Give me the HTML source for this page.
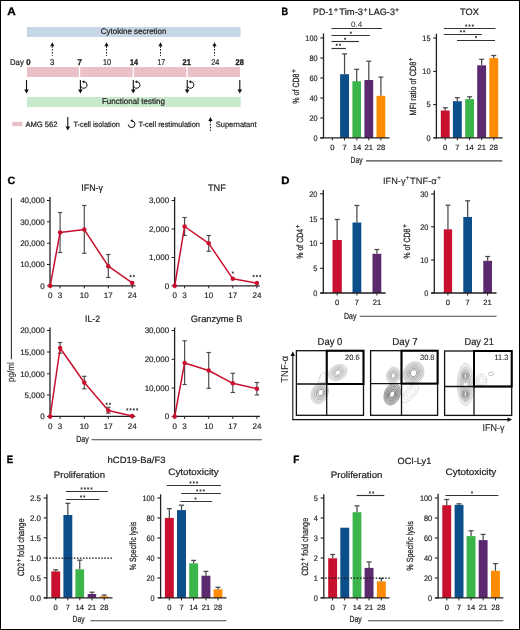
<!DOCTYPE html>
<html><head><meta charset="utf-8"><title>Figure</title>
<style>html,body{margin:0;padding:0;background:#fff;}svg{display:block;will-change:transform;font-family:"Liberation Sans",sans-serif;}</style>
</head><body>
<svg width="520" height="630" viewBox="0 0 520 630" font-family="Liberation Sans, sans-serif" text-rendering="geometricPrecision">
<rect x="0" y="0" width="520" height="630" fill="#fff"/>
<text x="7.3" y="15" font-size="11" font-weight="bold" fill="#000" stroke="#000" stroke-width="0.35" textLength="8.5" lengthAdjust="spacingAndGlyphs">A</text>
<rect x="27" y="27" width="213.5" height="10" fill="#c6d6e4"/>
<text x="100.8" y="34.3" font-size="8.2" font-weight="normal" fill="#231f20" stroke="#231f20" stroke-width="0.22" textLength="65.7" lengthAdjust="spacingAndGlyphs">Cytokine secretion</text>
<path d="M52.3 42.3 L50.2 46.2 L54.4 46.2 Z" fill="#111"/>
<line x1="52.3" y1="46.2" x2="52.3" y2="55.9" stroke="#111" stroke-width="1" stroke-linecap="butt" stroke-dasharray="1.6,1.3"/>
<path d="M106.5 42.3 L104.4 46.2 L108.6 46.2 Z" fill="#111"/>
<line x1="106.5" y1="46.2" x2="106.5" y2="55.9" stroke="#111" stroke-width="1" stroke-linecap="butt" stroke-dasharray="1.6,1.3"/>
<path d="M160.5 42.3 L158.4 46.2 L162.6 46.2 Z" fill="#111"/>
<line x1="160.5" y1="46.2" x2="160.5" y2="55.9" stroke="#111" stroke-width="1" stroke-linecap="butt" stroke-dasharray="1.6,1.3"/>
<path d="M214.5 42.3 L212.4 46.2 L216.6 46.2 Z" fill="#111"/>
<line x1="214.5" y1="46.2" x2="214.5" y2="55.9" stroke="#111" stroke-width="1" stroke-linecap="butt" stroke-dasharray="1.6,1.3"/>
<text x="10" y="64.8" font-size="8.4" font-weight="normal" fill="#231f20" stroke="#231f20" stroke-width="0.22" textLength="13.75" lengthAdjust="spacingAndGlyphs">Day</text>
<text x="26.3" y="64.8" font-size="8.4" font-weight="bold" fill="#231f20" stroke="#231f20" stroke-width="0.35" textLength="4.3" lengthAdjust="spacingAndGlyphs">0</text>
<text x="49.9" y="64.8" font-size="8.4" font-weight="normal" fill="#231f20" stroke="#231f20" stroke-width="0.22" textLength="4.3" lengthAdjust="spacingAndGlyphs">3</text>
<text x="77.6" y="64.8" font-size="8.4" font-weight="bold" fill="#231f20" stroke="#231f20" stroke-width="0.35" textLength="4.4" lengthAdjust="spacingAndGlyphs">7</text>
<text x="102.9" y="64.8" font-size="8.4" font-weight="normal" fill="#231f20" stroke="#231f20" stroke-width="0.22" textLength="8.1" lengthAdjust="spacingAndGlyphs">10</text>
<text x="130" y="64.8" font-size="8.4" font-weight="bold" fill="#231f20" stroke="#231f20" stroke-width="0.35" textLength="8" lengthAdjust="spacingAndGlyphs">14</text>
<text x="157.5" y="64.8" font-size="8.4" font-weight="normal" fill="#231f20" stroke="#231f20" stroke-width="0.22" textLength="7.5" lengthAdjust="spacingAndGlyphs">17</text>
<text x="182.5" y="64.8" font-size="8.4" font-weight="bold" fill="#231f20" stroke="#231f20" stroke-width="0.35" textLength="8.3" lengthAdjust="spacingAndGlyphs">21</text>
<text x="211.3" y="64.8" font-size="8.4" font-weight="normal" fill="#231f20" stroke="#231f20" stroke-width="0.22" textLength="8" lengthAdjust="spacingAndGlyphs">24</text>
<text x="235.5" y="64.8" font-size="8.4" font-weight="bold" fill="#231f20" stroke="#231f20" stroke-width="0.35" textLength="8.3" lengthAdjust="spacingAndGlyphs">28</text>
<rect x="27" y="67" width="213" height="10" fill="#ecc0c8"/>
<rect x="78.9" y="66.5" width="1.3" height="11" fill="#fff"/>
<rect x="132.6" y="66.5" width="1.3" height="11" fill="#fff"/>
<rect x="186.4" y="66.5" width="1.3" height="11" fill="#fff"/>
<rect x="27" y="97" width="213.8" height="10" fill="#c9e9cc"/>
<text x="101.9" y="104.3" font-size="8.2" font-weight="normal" fill="#231f20" stroke="#231f20" stroke-width="0.22" textLength="63.1" lengthAdjust="spacingAndGlyphs">Functional testing</text>
<line x1="26.5" y1="80" x2="26.5" y2="90" stroke="#111" stroke-width="1.1" stroke-linecap="butt"/>
<path d="M24.2 89.5 L28.8 89.5 L26.5 93.5 Z" fill="#111"/>
<line x1="80.4" y1="80" x2="80.4" y2="90" stroke="#111" stroke-width="1.1" stroke-linecap="butt"/>
<path d="M78.1 89.5 L82.7 89.5 L80.4 93.5 Z" fill="#111"/>
<path d="M80.94 86.65 A3.3 3.3 0 1 0 83.46 81.72" fill="none" stroke="#111" stroke-width="1.0"/>
<path d="M81.86 81.72 L84.26 80.22 L84.26 83.22 Z" fill="#111"/>
<line x1="80.94" y1="86.65" x2="80.7" y2="87.3" stroke="#111" stroke-width="1" stroke-linecap="butt"/>
<line x1="133.3" y1="80" x2="133.3" y2="90" stroke="#111" stroke-width="1.1" stroke-linecap="butt"/>
<path d="M131 89.5 L135.6 89.5 L133.3 93.5 Z" fill="#111"/>
<path d="M133.84 86.65 A3.3 3.3 0 1 0 136.36 81.72" fill="none" stroke="#111" stroke-width="1.0"/>
<path d="M134.76 81.72 L137.16 80.22 L137.16 83.22 Z" fill="#111"/>
<line x1="133.84" y1="86.65" x2="133.6" y2="87.3" stroke="#111" stroke-width="1" stroke-linecap="butt"/>
<line x1="187.2" y1="80" x2="187.2" y2="90" stroke="#111" stroke-width="1.1" stroke-linecap="butt"/>
<path d="M184.9 89.5 L189.5 89.5 L187.2 93.5 Z" fill="#111"/>
<path d="M187.74 86.65 A3.3 3.3 0 1 0 190.26 81.72" fill="none" stroke="#111" stroke-width="1.0"/>
<path d="M188.66 81.72 L191.06 80.22 L191.06 83.22 Z" fill="#111"/>
<line x1="187.74" y1="86.65" x2="187.5" y2="87.3" stroke="#111" stroke-width="1" stroke-linecap="butt"/>
<line x1="239.8" y1="80" x2="239.8" y2="90" stroke="#111" stroke-width="1.1" stroke-linecap="butt"/>
<path d="M237.5 89.5 L242.1 89.5 L239.8 93.5 Z" fill="#111"/>
<rect x="12.3" y="121.8" width="10" height="4.4" fill="#ecc0c8"/>
<text x="25.4" y="126.6" font-size="7.8" font-weight="normal" fill="#231f20" stroke="#231f20" stroke-width="0.22" textLength="32.1" lengthAdjust="spacingAndGlyphs">AMG 562</text>
<line x1="67.8" y1="117" x2="67.8" y2="127.1" stroke="#111" stroke-width="1.1" stroke-linecap="butt"/>
<path d="M65.5 126.6 L70.1 126.6 L67.8 130.6 Z" fill="#111"/>
<text x="73.5" y="126.6" font-size="7.8" font-weight="normal" fill="#231f20" stroke="#231f20" stroke-width="0.22" textLength="46.3" lengthAdjust="spacingAndGlyphs">T-cell isolation</text>
<path d="M128.21 124.5 A3.4 3.4 0 1 0 131.78 120.8" fill="none" stroke="#111" stroke-width="1.0"/>
<path d="M130.18 120.8 L132.58 119.3 L132.58 122.3 Z" fill="#111"/>
<text x="138.5" y="126.6" font-size="7.8" font-weight="normal" fill="#231f20" stroke="#231f20" stroke-width="0.22" textLength="61.4" lengthAdjust="spacingAndGlyphs">T-cell restimulation</text>
<path d="M210.4 117 L208.3 121 L212.5 121 Z" fill="#111"/>
<line x1="210.4" y1="121" x2="210.4" y2="131" stroke="#111" stroke-width="1" stroke-linecap="butt" stroke-dasharray="1.6,1.3"/>
<text x="215.8" y="126.6" font-size="7.8" font-weight="normal" fill="#231f20" stroke="#231f20" stroke-width="0.22" textLength="40.7" lengthAdjust="spacingAndGlyphs">Supernatant</text>
<text x="281.5" y="15.2" font-size="10.5" font-weight="bold" fill="#000" stroke="#000" stroke-width="0.35" textLength="6.6" lengthAdjust="spacingAndGlyphs">B</text>
<text x="313.1" y="15.2" font-size="9.3" font-weight="normal" fill="#231f20" stroke="#231f20" stroke-width="0.22" textLength="20" lengthAdjust="spacingAndGlyphs">PD-1</text>
<text x="333.9" y="11.7" font-size="6.6" font-weight="normal" fill="#231f20" stroke="#231f20" stroke-width="0.22" textLength="4.1" lengthAdjust="spacingAndGlyphs">+</text>
<text x="339.3" y="15.2" font-size="9.3" font-weight="normal" fill="#231f20" stroke="#231f20" stroke-width="0.22" textLength="23.8" lengthAdjust="spacingAndGlyphs">Tim-3</text>
<text x="363.8" y="11.7" font-size="6.6" font-weight="normal" fill="#231f20" stroke="#231f20" stroke-width="0.22" textLength="3.6" lengthAdjust="spacingAndGlyphs">+</text>
<text x="368.6" y="15.2" font-size="9.3" font-weight="normal" fill="#231f20" stroke="#231f20" stroke-width="0.22" textLength="26.4" lengthAdjust="spacingAndGlyphs">LAG-3</text>
<text x="395.2" y="11.7" font-size="6.6" font-weight="normal" fill="#231f20" stroke="#231f20" stroke-width="0.22" textLength="3.7" lengthAdjust="spacingAndGlyphs">+</text>
<text x="460" y="15.2" font-size="9.3" font-weight="normal" fill="#231f20" stroke="#231f20" stroke-width="0.22" textLength="18.8" lengthAdjust="spacingAndGlyphs">TOX</text>
<line x1="331.5" y1="28.5" x2="382" y2="28.5" stroke="#333333" stroke-width="1.15" stroke-linecap="butt"/>
<text x="351" y="26.8" font-size="7.8" font-weight="normal" fill="#231f20" textLength="11.3" lengthAdjust="spacingAndGlyphs">0.4</text>
<line x1="331.5" y1="35.5" x2="369.8" y2="35.5" stroke="#333333" stroke-width="1.15" stroke-linecap="butt"/>
<line x1="350.8" y1="31.55" x2="350.8" y2="33.85" stroke="#333333" stroke-width="0.75" stroke-linecap="butt"/>
<line x1="349.8" y1="32.12" x2="351.8" y2="33.28" stroke="#333333" stroke-width="0.75" stroke-linecap="butt"/>
<line x1="351.8" y1="32.12" x2="349.8" y2="33.28" stroke="#333333" stroke-width="0.75" stroke-linecap="butt"/>
<line x1="331.5" y1="41.5" x2="358.9" y2="41.5" stroke="#333333" stroke-width="1.15" stroke-linecap="butt"/>
<line x1="345.1" y1="37.65" x2="345.1" y2="39.95" stroke="#333333" stroke-width="0.75" stroke-linecap="butt"/>
<line x1="344.1" y1="38.22" x2="346.1" y2="39.38" stroke="#333333" stroke-width="0.75" stroke-linecap="butt"/>
<line x1="346.1" y1="38.22" x2="344.1" y2="39.38" stroke="#333333" stroke-width="0.75" stroke-linecap="butt"/>
<line x1="331.5" y1="48.5" x2="345.9" y2="48.5" stroke="#333333" stroke-width="1.15" stroke-linecap="butt"/>
<line x1="336.75" y1="43.65" x2="336.75" y2="45.95" stroke="#333333" stroke-width="0.75" stroke-linecap="butt"/>
<line x1="335.75" y1="44.22" x2="337.75" y2="45.38" stroke="#333333" stroke-width="0.75" stroke-linecap="butt"/>
<line x1="337.75" y1="44.22" x2="335.75" y2="45.38" stroke="#333333" stroke-width="0.75" stroke-linecap="butt"/>
<line x1="340.05" y1="43.65" x2="340.05" y2="45.95" stroke="#333333" stroke-width="0.75" stroke-linecap="butt"/>
<line x1="339.05" y1="44.22" x2="341.05" y2="45.38" stroke="#333333" stroke-width="0.75" stroke-linecap="butt"/>
<line x1="341.05" y1="44.22" x2="339.05" y2="45.38" stroke="#333333" stroke-width="0.75" stroke-linecap="butt"/>
<rect x="340.1" y="74.2" width="8.9" height="63.7" fill="#0d4f8b"/>
<line x1="344.55" y1="53.9" x2="344.55" y2="74.2" stroke="#4a4a4a" stroke-width="1.25" stroke-linecap="butt"/>
<line x1="342.05" y1="53.9" x2="347.05" y2="53.9" stroke="#4a4a4a" stroke-width="1.25" stroke-linecap="butt"/>
<rect x="352.4" y="81.2" width="8.6" height="56.7" fill="#3bb54a"/>
<line x1="356.7" y1="69.3" x2="356.7" y2="81.2" stroke="#4a4a4a" stroke-width="1.25" stroke-linecap="butt"/>
<line x1="354.2" y1="69.3" x2="359.2" y2="69.3" stroke="#4a4a4a" stroke-width="1.25" stroke-linecap="butt"/>
<rect x="364.4" y="80" width="8.8" height="57.9" fill="#5b2a6e"/>
<line x1="368.8" y1="61.2" x2="368.8" y2="80" stroke="#4a4a4a" stroke-width="1.25" stroke-linecap="butt"/>
<line x1="366.3" y1="61.2" x2="371.3" y2="61.2" stroke="#4a4a4a" stroke-width="1.25" stroke-linecap="butt"/>
<rect x="376.5" y="95.8" width="8.8" height="42.1" fill="#ff8c00"/>
<line x1="380.9" y1="77.1" x2="380.9" y2="95.8" stroke="#4a4a4a" stroke-width="1.25" stroke-linecap="butt"/>
<line x1="378.4" y1="77.1" x2="383.4" y2="77.1" stroke="#4a4a4a" stroke-width="1.25" stroke-linecap="butt"/>
<line x1="323.5" y1="33.4" x2="323.5" y2="138.5" stroke="#231f20" stroke-width="1.3" stroke-linecap="butt"/>
<line x1="320.2" y1="137.9" x2="389.5" y2="137.9" stroke="#231f20" stroke-width="1.3" stroke-linecap="butt"/>
<line x1="320.3" y1="38" x2="323.5" y2="38" stroke="#231f20" stroke-width="1.1" stroke-linecap="butt"/>
<text x="305.32" y="40.85" font-size="8" fill="#231f20" stroke="#231f20" stroke-width="0.18" textLength="12.28" lengthAdjust="spacingAndGlyphs">100</text>
<line x1="320.3" y1="58" x2="323.5" y2="58" stroke="#231f20" stroke-width="1.1" stroke-linecap="butt"/>
<text x="309.42" y="60.85" font-size="8" fill="#231f20" stroke="#231f20" stroke-width="0.18" textLength="8.18" lengthAdjust="spacingAndGlyphs">80</text>
<line x1="320.3" y1="78" x2="323.5" y2="78" stroke="#231f20" stroke-width="1.1" stroke-linecap="butt"/>
<text x="309.42" y="80.85" font-size="8" fill="#231f20" stroke="#231f20" stroke-width="0.18" textLength="8.18" lengthAdjust="spacingAndGlyphs">60</text>
<line x1="320.3" y1="98" x2="323.5" y2="98" stroke="#231f20" stroke-width="1.1" stroke-linecap="butt"/>
<text x="309.42" y="100.85" font-size="8" fill="#231f20" stroke="#231f20" stroke-width="0.18" textLength="8.18" lengthAdjust="spacingAndGlyphs">40</text>
<line x1="320.3" y1="118" x2="323.5" y2="118" stroke="#231f20" stroke-width="1.1" stroke-linecap="butt"/>
<text x="309.42" y="120.85" font-size="8" fill="#231f20" stroke="#231f20" stroke-width="0.18" textLength="8.18" lengthAdjust="spacingAndGlyphs">20</text>
<line x1="320.3" y1="137.9" x2="323.5" y2="137.9" stroke="#231f20" stroke-width="1.1" stroke-linecap="butt"/>
<text x="313.51" y="140.75" font-size="8" fill="#231f20" stroke="#231f20" stroke-width="0.18" textLength="4.09" lengthAdjust="spacingAndGlyphs">0</text>
<line x1="332.4" y1="137.9" x2="332.4" y2="140.4" stroke="#231f20" stroke-width="1" stroke-linecap="butt"/>
<text x="332.4" y="150.1" font-size="7.6" font-weight="normal" fill="#231f20" stroke="#231f20" stroke-width="0.18" text-anchor="middle">0</text>
<line x1="344.5" y1="137.9" x2="344.5" y2="140.4" stroke="#231f20" stroke-width="1" stroke-linecap="butt"/>
<text x="344.5" y="150.1" font-size="7.6" font-weight="normal" fill="#231f20" stroke="#231f20" stroke-width="0.18" text-anchor="middle">7</text>
<line x1="356.9" y1="137.9" x2="356.9" y2="140.4" stroke="#231f20" stroke-width="1" stroke-linecap="butt"/>
<text x="356.9" y="150.1" font-size="7.6" font-weight="normal" fill="#231f20" stroke="#231f20" stroke-width="0.18" text-anchor="middle">14</text>
<line x1="368.8" y1="137.9" x2="368.8" y2="140.4" stroke="#231f20" stroke-width="1" stroke-linecap="butt"/>
<text x="368.8" y="150.1" font-size="7.6" font-weight="normal" fill="#231f20" stroke="#231f20" stroke-width="0.18" text-anchor="middle">21</text>
<line x1="380.9" y1="137.9" x2="380.9" y2="140.4" stroke="#231f20" stroke-width="1" stroke-linecap="butt"/>
<text x="380.9" y="150.1" font-size="7.6" font-weight="normal" fill="#231f20" stroke="#231f20" stroke-width="0.18" text-anchor="middle">28</text>
<text transform="translate(299.4 103.7) rotate(-90)" x="0" y="0" font-size="9" fill="#231f20" stroke="#231f20" stroke-width="0.25" textLength="30.2" lengthAdjust="spacingAndGlyphs">% of CD8</text>
<text transform="translate(295.9 72.84) rotate(-90)" x="0" y="0" font-size="7" fill="#231f20" stroke="#231f20" stroke-width="0.2" textLength="3.68" lengthAdjust="spacingAndGlyphs">+</text>
<line x1="443.8" y1="28.5" x2="495.5" y2="28.5" stroke="#333333" stroke-width="1.15" stroke-linecap="butt"/>
<line x1="466.2" y1="24.45" x2="466.2" y2="26.75" stroke="#333333" stroke-width="0.75" stroke-linecap="butt"/>
<line x1="465.2" y1="25.03" x2="467.2" y2="26.18" stroke="#333333" stroke-width="0.75" stroke-linecap="butt"/>
<line x1="467.2" y1="25.03" x2="465.2" y2="26.18" stroke="#333333" stroke-width="0.75" stroke-linecap="butt"/>
<line x1="469.5" y1="24.45" x2="469.5" y2="26.75" stroke="#333333" stroke-width="0.75" stroke-linecap="butt"/>
<line x1="468.5" y1="25.03" x2="470.5" y2="26.18" stroke="#333333" stroke-width="0.75" stroke-linecap="butt"/>
<line x1="470.5" y1="25.03" x2="468.5" y2="26.18" stroke="#333333" stroke-width="0.75" stroke-linecap="butt"/>
<line x1="472.8" y1="24.45" x2="472.8" y2="26.75" stroke="#333333" stroke-width="0.75" stroke-linecap="butt"/>
<line x1="471.8" y1="25.03" x2="473.8" y2="26.18" stroke="#333333" stroke-width="0.75" stroke-linecap="butt"/>
<line x1="473.8" y1="25.03" x2="471.8" y2="26.18" stroke="#333333" stroke-width="0.75" stroke-linecap="butt"/>
<line x1="443.8" y1="34.5" x2="481.8" y2="34.5" stroke="#333333" stroke-width="1.15" stroke-linecap="butt"/>
<line x1="460.85" y1="30.15" x2="460.85" y2="32.45" stroke="#333333" stroke-width="0.75" stroke-linecap="butt"/>
<line x1="459.85" y1="30.73" x2="461.85" y2="31.88" stroke="#333333" stroke-width="0.75" stroke-linecap="butt"/>
<line x1="461.85" y1="30.73" x2="459.85" y2="31.88" stroke="#333333" stroke-width="0.75" stroke-linecap="butt"/>
<line x1="464.15" y1="30.15" x2="464.15" y2="32.45" stroke="#333333" stroke-width="0.75" stroke-linecap="butt"/>
<line x1="463.15" y1="30.73" x2="465.15" y2="31.88" stroke="#333333" stroke-width="0.75" stroke-linecap="butt"/>
<line x1="465.15" y1="30.73" x2="463.15" y2="31.88" stroke="#333333" stroke-width="0.75" stroke-linecap="butt"/>
<line x1="457" y1="40.5" x2="495" y2="40.5" stroke="#333333" stroke-width="1.15" stroke-linecap="butt"/>
<line x1="476" y1="35.85" x2="476" y2="38.15" stroke="#333333" stroke-width="0.75" stroke-linecap="butt"/>
<line x1="475" y1="36.42" x2="477" y2="37.58" stroke="#333333" stroke-width="0.75" stroke-linecap="butt"/>
<line x1="477" y1="36.42" x2="475" y2="37.58" stroke="#333333" stroke-width="0.75" stroke-linecap="butt"/>
<rect x="440.8" y="110.5" width="8.9" height="27.3" fill="#c8102e"/>
<line x1="445.25" y1="107.8" x2="445.25" y2="110.5" stroke="#4a4a4a" stroke-width="1.25" stroke-linecap="butt"/>
<line x1="442.75" y1="107.8" x2="447.75" y2="107.8" stroke="#4a4a4a" stroke-width="1.25" stroke-linecap="butt"/>
<rect x="452.9" y="101.2" width="8.9" height="36.6" fill="#0d4f8b"/>
<line x1="457.35" y1="97.6" x2="457.35" y2="101.2" stroke="#4a4a4a" stroke-width="1.25" stroke-linecap="butt"/>
<line x1="454.85" y1="97.6" x2="459.85" y2="97.6" stroke="#4a4a4a" stroke-width="1.25" stroke-linecap="butt"/>
<rect x="465.2" y="99.1" width="8.8" height="38.7" fill="#3bb54a"/>
<line x1="469.6" y1="96.8" x2="469.6" y2="99.1" stroke="#4a4a4a" stroke-width="1.25" stroke-linecap="butt"/>
<line x1="467.1" y1="96.8" x2="472.1" y2="96.8" stroke="#4a4a4a" stroke-width="1.25" stroke-linecap="butt"/>
<rect x="477.2" y="65.3" width="8.9" height="72.5" fill="#5b2a6e"/>
<line x1="481.65" y1="59.3" x2="481.65" y2="65.3" stroke="#4a4a4a" stroke-width="1.25" stroke-linecap="butt"/>
<line x1="479.15" y1="59.3" x2="484.15" y2="59.3" stroke="#4a4a4a" stroke-width="1.25" stroke-linecap="butt"/>
<rect x="489.3" y="58.1" width="8.9" height="79.7" fill="#ff8c00"/>
<line x1="493.75" y1="55.5" x2="493.75" y2="58.1" stroke="#4a4a4a" stroke-width="1.25" stroke-linecap="butt"/>
<line x1="491.25" y1="55.5" x2="496.25" y2="55.5" stroke="#4a4a4a" stroke-width="1.25" stroke-linecap="butt"/>
<line x1="436.4" y1="33.7" x2="436.4" y2="138.4" stroke="#231f20" stroke-width="1.3" stroke-linecap="butt"/>
<line x1="433.8" y1="137.8" x2="502.6" y2="137.8" stroke="#231f20" stroke-width="1.3" stroke-linecap="butt"/>
<line x1="433.2" y1="38" x2="436.4" y2="38" stroke="#231f20" stroke-width="1.1" stroke-linecap="butt"/>
<text x="422.32" y="40.85" font-size="8" fill="#231f20" stroke="#231f20" stroke-width="0.18" textLength="8.18" lengthAdjust="spacingAndGlyphs">15</text>
<line x1="433.2" y1="71.4" x2="436.4" y2="71.4" stroke="#231f20" stroke-width="1.1" stroke-linecap="butt"/>
<text x="422.32" y="74.25" font-size="8" fill="#231f20" stroke="#231f20" stroke-width="0.18" textLength="8.18" lengthAdjust="spacingAndGlyphs">10</text>
<line x1="433.2" y1="104.6" x2="436.4" y2="104.6" stroke="#231f20" stroke-width="1.1" stroke-linecap="butt"/>
<text x="426.41" y="107.45" font-size="8" fill="#231f20" stroke="#231f20" stroke-width="0.18" textLength="4.09" lengthAdjust="spacingAndGlyphs">5</text>
<line x1="433.2" y1="137.8" x2="436.4" y2="137.8" stroke="#231f20" stroke-width="1.1" stroke-linecap="butt"/>
<text x="426.41" y="140.65" font-size="8" fill="#231f20" stroke="#231f20" stroke-width="0.18" textLength="4.09" lengthAdjust="spacingAndGlyphs">0</text>
<line x1="445.2" y1="137.8" x2="445.2" y2="140.3" stroke="#231f20" stroke-width="1" stroke-linecap="butt"/>
<text x="445.2" y="150.1" font-size="7.6" font-weight="normal" fill="#231f20" stroke="#231f20" stroke-width="0.18" text-anchor="middle">0</text>
<line x1="457.3" y1="137.8" x2="457.3" y2="140.3" stroke="#231f20" stroke-width="1" stroke-linecap="butt"/>
<text x="457.3" y="150.1" font-size="7.6" font-weight="normal" fill="#231f20" stroke="#231f20" stroke-width="0.18" text-anchor="middle">7</text>
<line x1="469.6" y1="137.8" x2="469.6" y2="140.3" stroke="#231f20" stroke-width="1" stroke-linecap="butt"/>
<text x="469.6" y="150.1" font-size="7.6" font-weight="normal" fill="#231f20" stroke="#231f20" stroke-width="0.18" text-anchor="middle">14</text>
<line x1="481.7" y1="137.8" x2="481.7" y2="140.3" stroke="#231f20" stroke-width="1" stroke-linecap="butt"/>
<text x="481.7" y="150.1" font-size="7.6" font-weight="normal" fill="#231f20" stroke="#231f20" stroke-width="0.18" text-anchor="middle">21</text>
<line x1="493.8" y1="137.8" x2="493.8" y2="140.3" stroke="#231f20" stroke-width="1" stroke-linecap="butt"/>
<text x="493.8" y="150.1" font-size="7.6" font-weight="normal" fill="#231f20" stroke="#231f20" stroke-width="0.18" text-anchor="middle">28</text>
<text transform="translate(416 115.4) rotate(-90)" x="0" y="0" font-size="9" fill="#231f20" stroke="#231f20" stroke-width="0.25" textLength="53.7" lengthAdjust="spacingAndGlyphs">MFI ratio of CD8</text>
<text transform="translate(412.9 61.34) rotate(-90)" x="0" y="0" font-size="7" fill="#231f20" stroke="#231f20" stroke-width="0.2" textLength="3.68" lengthAdjust="spacingAndGlyphs">+</text>
<text x="350.6" y="162.7" font-size="8.8" font-weight="normal" fill="#231f20" stroke="#231f20" stroke-width="0.22" textLength="11.9" lengthAdjust="spacingAndGlyphs">Day</text>
<line x1="366" y1="160.9" x2="502.3" y2="160.9" stroke="#444" stroke-width="1.1" stroke-linecap="butt"/>
<text x="7.5" y="183.8" font-size="10.5" font-weight="bold" fill="#000" stroke="#000" stroke-width="0.35" textLength="7.7" lengthAdjust="spacingAndGlyphs">C</text>
<line x1="11.4" y1="198" x2="11.4" y2="359.2" stroke="#333" stroke-width="1.1" stroke-linecap="butt"/>
<text transform="translate(13.7 381.9) rotate(-90)" x="0" y="0" font-size="9.5" fill="#231f20" stroke="#231f20" stroke-width="0.1" textLength="19.7" lengthAdjust="spacingAndGlyphs">pg/ml</text>
<text x="81.3" y="191" font-size="9.3" font-weight="normal" fill="#231f20" stroke="#231f20" stroke-width="0.22" textLength="21.7" lengthAdjust="spacingAndGlyphs">IFN-γ</text>
<line x1="60.1" y1="212.5" x2="60.1" y2="252.5" stroke="#4a4a4a" stroke-width="1.15" stroke-linecap="butt"/>
<line x1="57.9" y1="212.5" x2="62.3" y2="212.5" stroke="#4a4a4a" stroke-width="1.15" stroke-linecap="butt"/>
<line x1="57.9" y1="252.5" x2="62.3" y2="252.5" stroke="#4a4a4a" stroke-width="1.15" stroke-linecap="butt"/>
<line x1="84.3" y1="205.5" x2="84.3" y2="253.3" stroke="#4a4a4a" stroke-width="1.15" stroke-linecap="butt"/>
<line x1="82.1" y1="205.5" x2="86.5" y2="205.5" stroke="#4a4a4a" stroke-width="1.15" stroke-linecap="butt"/>
<line x1="82.1" y1="253.3" x2="86.5" y2="253.3" stroke="#4a4a4a" stroke-width="1.15" stroke-linecap="butt"/>
<line x1="108.3" y1="254.5" x2="108.3" y2="277.5" stroke="#4a4a4a" stroke-width="1.15" stroke-linecap="butt"/>
<line x1="106.1" y1="254.5" x2="110.5" y2="254.5" stroke="#4a4a4a" stroke-width="1.15" stroke-linecap="butt"/>
<line x1="106.1" y1="277.5" x2="110.5" y2="277.5" stroke="#4a4a4a" stroke-width="1.15" stroke-linecap="butt"/>
<line x1="50" y1="197" x2="50" y2="286.4" stroke="#231f20" stroke-width="1.3" stroke-linecap="butt"/>
<line x1="49.4" y1="285.8" x2="135.5" y2="285.8" stroke="#231f20" stroke-width="1.3" stroke-linecap="butt"/>
<line x1="47" y1="200.5" x2="50" y2="200.5" stroke="#231f20" stroke-width="1" stroke-linecap="butt"/>
<text x="44.6" y="203.2" font-size="8" fill="#231f20" stroke="#231f20" stroke-width="0.18" text-anchor="end">40,000</text>
<line x1="47" y1="221.8" x2="50" y2="221.8" stroke="#231f20" stroke-width="1" stroke-linecap="butt"/>
<text x="44.6" y="224.5" font-size="8" fill="#231f20" stroke="#231f20" stroke-width="0.18" text-anchor="end">30,000</text>
<line x1="47" y1="243.2" x2="50" y2="243.2" stroke="#231f20" stroke-width="1" stroke-linecap="butt"/>
<text x="44.6" y="245.9" font-size="8" fill="#231f20" stroke="#231f20" stroke-width="0.18" text-anchor="end">20,000</text>
<line x1="47" y1="264.5" x2="50" y2="264.5" stroke="#231f20" stroke-width="1" stroke-linecap="butt"/>
<text x="44.6" y="267.2" font-size="8" fill="#231f20" stroke="#231f20" stroke-width="0.18" text-anchor="end">10,000</text>
<line x1="47" y1="285.8" x2="50" y2="285.8" stroke="#231f20" stroke-width="1" stroke-linecap="butt"/>
<text x="44.6" y="288.5" font-size="8" fill="#231f20" stroke="#231f20" stroke-width="0.18" text-anchor="end">0</text>
<line x1="50.2" y1="285.8" x2="50.2" y2="288.3" stroke="#231f20" stroke-width="1" stroke-linecap="butt"/>
<text x="50.2" y="298" font-size="8" font-weight="normal" fill="#231f20" stroke="#231f20" stroke-width="0.18" text-anchor="middle">0</text>
<line x1="60.1" y1="285.8" x2="60.1" y2="288.3" stroke="#231f20" stroke-width="1" stroke-linecap="butt"/>
<text x="60.1" y="298" font-size="8" font-weight="normal" fill="#231f20" stroke="#231f20" stroke-width="0.18" text-anchor="middle">3</text>
<line x1="84.3" y1="285.8" x2="84.3" y2="288.3" stroke="#231f20" stroke-width="1" stroke-linecap="butt"/>
<text x="84.3" y="298" font-size="8" font-weight="normal" fill="#231f20" stroke="#231f20" stroke-width="0.18" text-anchor="middle">10</text>
<line x1="108.3" y1="285.8" x2="108.3" y2="288.3" stroke="#231f20" stroke-width="1" stroke-linecap="butt"/>
<text x="108.3" y="298" font-size="8" font-weight="normal" fill="#231f20" stroke="#231f20" stroke-width="0.18" text-anchor="middle">17</text>
<line x1="132.2" y1="285.8" x2="132.2" y2="288.3" stroke="#231f20" stroke-width="1" stroke-linecap="butt"/>
<text x="132.2" y="298" font-size="8" font-weight="normal" fill="#231f20" stroke="#231f20" stroke-width="0.18" text-anchor="middle">24</text>
<polyline points="50.2,285.8 60.1,232.5 84.3,229.6 108.3,266.2 132.2,282.9" fill="none" stroke="#c8102e" stroke-width="1.5" stroke-linejoin="round"/>
<circle cx="50.2" cy="285.8" r="2.25" fill="#c8102e"/>
<circle cx="60.1" cy="232.5" r="2.25" fill="#c8102e"/>
<circle cx="84.3" cy="229.6" r="2.25" fill="#c8102e"/>
<circle cx="108.3" cy="266.2" r="2.25" fill="#c8102e"/>
<circle cx="132.2" cy="282.9" r="2.25" fill="#c8102e"/>
<line x1="130.55" y1="274.85" x2="130.55" y2="277.15" stroke="#333333" stroke-width="0.75" stroke-linecap="butt"/>
<line x1="129.55" y1="275.43" x2="131.55" y2="276.57" stroke="#333333" stroke-width="0.75" stroke-linecap="butt"/>
<line x1="131.55" y1="275.43" x2="129.55" y2="276.57" stroke="#333333" stroke-width="0.75" stroke-linecap="butt"/>
<line x1="133.85" y1="274.85" x2="133.85" y2="277.15" stroke="#333333" stroke-width="0.75" stroke-linecap="butt"/>
<line x1="132.85" y1="275.43" x2="134.85" y2="276.57" stroke="#333333" stroke-width="0.75" stroke-linecap="butt"/>
<line x1="134.85" y1="275.43" x2="132.85" y2="276.57" stroke="#333333" stroke-width="0.75" stroke-linecap="butt"/>
<text x="208" y="191" font-size="9.3" font-weight="normal" fill="#231f20" stroke="#231f20" stroke-width="0.22" textLength="17.8" lengthAdjust="spacingAndGlyphs">TNF</text>
<line x1="184.6" y1="217.5" x2="184.6" y2="235.5" stroke="#4a4a4a" stroke-width="1.15" stroke-linecap="butt"/>
<line x1="182.4" y1="217.5" x2="186.8" y2="217.5" stroke="#4a4a4a" stroke-width="1.15" stroke-linecap="butt"/>
<line x1="182.4" y1="235.5" x2="186.8" y2="235.5" stroke="#4a4a4a" stroke-width="1.15" stroke-linecap="butt"/>
<line x1="208.7" y1="235.5" x2="208.7" y2="251.3" stroke="#4a4a4a" stroke-width="1.15" stroke-linecap="butt"/>
<line x1="206.5" y1="235.5" x2="210.9" y2="235.5" stroke="#4a4a4a" stroke-width="1.15" stroke-linecap="butt"/>
<line x1="206.5" y1="251.3" x2="210.9" y2="251.3" stroke="#4a4a4a" stroke-width="1.15" stroke-linecap="butt"/>
<line x1="174.6" y1="197" x2="174.6" y2="286.4" stroke="#231f20" stroke-width="1.3" stroke-linecap="butt"/>
<line x1="174" y1="285.8" x2="259.8" y2="285.8" stroke="#231f20" stroke-width="1.3" stroke-linecap="butt"/>
<line x1="171.6" y1="200.5" x2="174.6" y2="200.5" stroke="#231f20" stroke-width="1" stroke-linecap="butt"/>
<text x="169.1" y="203.2" font-size="8" fill="#231f20" stroke="#231f20" stroke-width="0.18" text-anchor="end">3,000</text>
<line x1="171.6" y1="229" x2="174.6" y2="229" stroke="#231f20" stroke-width="1" stroke-linecap="butt"/>
<text x="169.1" y="231.7" font-size="8" fill="#231f20" stroke="#231f20" stroke-width="0.18" text-anchor="end">2,000</text>
<line x1="171.6" y1="257.5" x2="174.6" y2="257.5" stroke="#231f20" stroke-width="1" stroke-linecap="butt"/>
<text x="169.1" y="260.2" font-size="8" fill="#231f20" stroke="#231f20" stroke-width="0.18" text-anchor="end">1,000</text>
<line x1="171.6" y1="285.8" x2="174.6" y2="285.8" stroke="#231f20" stroke-width="1" stroke-linecap="butt"/>
<text x="169.1" y="288.5" font-size="8" fill="#231f20" stroke="#231f20" stroke-width="0.18" text-anchor="end">0</text>
<line x1="174.7" y1="285.8" x2="174.7" y2="288.3" stroke="#231f20" stroke-width="1" stroke-linecap="butt"/>
<text x="174.7" y="298" font-size="8" font-weight="normal" fill="#231f20" stroke="#231f20" stroke-width="0.18" text-anchor="middle">0</text>
<line x1="184.6" y1="285.8" x2="184.6" y2="288.3" stroke="#231f20" stroke-width="1" stroke-linecap="butt"/>
<text x="184.6" y="298" font-size="8" font-weight="normal" fill="#231f20" stroke="#231f20" stroke-width="0.18" text-anchor="middle">3</text>
<line x1="208.7" y1="285.8" x2="208.7" y2="288.3" stroke="#231f20" stroke-width="1" stroke-linecap="butt"/>
<text x="208.7" y="298" font-size="8" font-weight="normal" fill="#231f20" stroke="#231f20" stroke-width="0.18" text-anchor="middle">10</text>
<line x1="232.8" y1="285.8" x2="232.8" y2="288.3" stroke="#231f20" stroke-width="1" stroke-linecap="butt"/>
<text x="232.8" y="298" font-size="8" font-weight="normal" fill="#231f20" stroke="#231f20" stroke-width="0.18" text-anchor="middle">17</text>
<line x1="256.9" y1="285.8" x2="256.9" y2="288.3" stroke="#231f20" stroke-width="1" stroke-linecap="butt"/>
<text x="256.9" y="298" font-size="8" font-weight="normal" fill="#231f20" stroke="#231f20" stroke-width="0.18" text-anchor="middle">24</text>
<polyline points="174.7,285.8 184.6,226.5 208.7,243.3 232.8,278.8 256.9,283.1" fill="none" stroke="#c8102e" stroke-width="1.5" stroke-linejoin="round"/>
<circle cx="174.7" cy="285.8" r="2.25" fill="#c8102e"/>
<circle cx="184.6" cy="226.5" r="2.25" fill="#c8102e"/>
<circle cx="208.7" cy="243.3" r="2.25" fill="#c8102e"/>
<circle cx="232.8" cy="278.8" r="2.25" fill="#c8102e"/>
<circle cx="256.9" cy="283.1" r="2.25" fill="#c8102e"/>
<line x1="232.8" y1="271.45" x2="232.8" y2="273.75" stroke="#333333" stroke-width="0.75" stroke-linecap="butt"/>
<line x1="231.8" y1="272.03" x2="233.8" y2="273.18" stroke="#333333" stroke-width="0.75" stroke-linecap="butt"/>
<line x1="233.8" y1="272.03" x2="231.8" y2="273.18" stroke="#333333" stroke-width="0.75" stroke-linecap="butt"/>
<line x1="253.6" y1="274.85" x2="253.6" y2="277.15" stroke="#333333" stroke-width="0.75" stroke-linecap="butt"/>
<line x1="252.6" y1="275.43" x2="254.6" y2="276.57" stroke="#333333" stroke-width="0.75" stroke-linecap="butt"/>
<line x1="254.6" y1="275.43" x2="252.6" y2="276.57" stroke="#333333" stroke-width="0.75" stroke-linecap="butt"/>
<line x1="256.9" y1="274.85" x2="256.9" y2="277.15" stroke="#333333" stroke-width="0.75" stroke-linecap="butt"/>
<line x1="255.9" y1="275.43" x2="257.9" y2="276.57" stroke="#333333" stroke-width="0.75" stroke-linecap="butt"/>
<line x1="257.9" y1="275.43" x2="255.9" y2="276.57" stroke="#333333" stroke-width="0.75" stroke-linecap="butt"/>
<line x1="260.2" y1="274.85" x2="260.2" y2="277.15" stroke="#333333" stroke-width="0.75" stroke-linecap="butt"/>
<line x1="259.2" y1="275.43" x2="261.2" y2="276.57" stroke="#333333" stroke-width="0.75" stroke-linecap="butt"/>
<line x1="261.2" y1="275.43" x2="259.2" y2="276.57" stroke="#333333" stroke-width="0.75" stroke-linecap="butt"/>
<text x="85" y="322" font-size="9.3" font-weight="normal" fill="#231f20" stroke="#231f20" stroke-width="0.22" textLength="15" lengthAdjust="spacingAndGlyphs">IL-2</text>
<line x1="60.1" y1="342.5" x2="60.1" y2="353.3" stroke="#4a4a4a" stroke-width="1.15" stroke-linecap="butt"/>
<line x1="57.9" y1="342.5" x2="62.3" y2="342.5" stroke="#4a4a4a" stroke-width="1.15" stroke-linecap="butt"/>
<line x1="57.9" y1="353.3" x2="62.3" y2="353.3" stroke="#4a4a4a" stroke-width="1.15" stroke-linecap="butt"/>
<line x1="84.3" y1="376.3" x2="84.3" y2="388.8" stroke="#4a4a4a" stroke-width="1.15" stroke-linecap="butt"/>
<line x1="82.1" y1="376.3" x2="86.5" y2="376.3" stroke="#4a4a4a" stroke-width="1.15" stroke-linecap="butt"/>
<line x1="82.1" y1="388.8" x2="86.5" y2="388.8" stroke="#4a4a4a" stroke-width="1.15" stroke-linecap="butt"/>
<line x1="108.3" y1="407.2" x2="108.3" y2="413.2" stroke="#4a4a4a" stroke-width="1.15" stroke-linecap="butt"/>
<line x1="106.1" y1="407.2" x2="110.5" y2="407.2" stroke="#4a4a4a" stroke-width="1.15" stroke-linecap="butt"/>
<line x1="106.1" y1="413.2" x2="110.5" y2="413.2" stroke="#4a4a4a" stroke-width="1.15" stroke-linecap="butt"/>
<line x1="50" y1="327.5" x2="50" y2="417" stroke="#231f20" stroke-width="1.3" stroke-linecap="butt"/>
<line x1="49.4" y1="416.4" x2="135.3" y2="416.4" stroke="#231f20" stroke-width="1.3" stroke-linecap="butt"/>
<line x1="47" y1="330.5" x2="50" y2="330.5" stroke="#231f20" stroke-width="1" stroke-linecap="butt"/>
<text x="44.6" y="333.2" font-size="8" fill="#231f20" stroke="#231f20" stroke-width="0.18" text-anchor="end">20,000</text>
<line x1="47" y1="352" x2="50" y2="352" stroke="#231f20" stroke-width="1" stroke-linecap="butt"/>
<text x="44.6" y="354.7" font-size="8" fill="#231f20" stroke="#231f20" stroke-width="0.18" text-anchor="end">15,000</text>
<line x1="47" y1="373.8" x2="50" y2="373.8" stroke="#231f20" stroke-width="1" stroke-linecap="butt"/>
<text x="44.6" y="376.5" font-size="8" fill="#231f20" stroke="#231f20" stroke-width="0.18" text-anchor="end">10,000</text>
<line x1="47" y1="395" x2="50" y2="395" stroke="#231f20" stroke-width="1" stroke-linecap="butt"/>
<text x="44.6" y="397.7" font-size="8" fill="#231f20" stroke="#231f20" stroke-width="0.18" text-anchor="end">5,000</text>
<line x1="47" y1="416.4" x2="50" y2="416.4" stroke="#231f20" stroke-width="1" stroke-linecap="butt"/>
<text x="44.6" y="419.1" font-size="8" fill="#231f20" stroke="#231f20" stroke-width="0.18" text-anchor="end">0</text>
<line x1="50.2" y1="416.4" x2="50.2" y2="418.9" stroke="#231f20" stroke-width="1" stroke-linecap="butt"/>
<text x="50.2" y="428.8" font-size="8" font-weight="normal" fill="#231f20" stroke="#231f20" stroke-width="0.18" text-anchor="middle">0</text>
<line x1="60.1" y1="416.4" x2="60.1" y2="418.9" stroke="#231f20" stroke-width="1" stroke-linecap="butt"/>
<text x="60.1" y="428.8" font-size="8" font-weight="normal" fill="#231f20" stroke="#231f20" stroke-width="0.18" text-anchor="middle">3</text>
<line x1="84.3" y1="416.4" x2="84.3" y2="418.9" stroke="#231f20" stroke-width="1" stroke-linecap="butt"/>
<text x="84.3" y="428.8" font-size="8" font-weight="normal" fill="#231f20" stroke="#231f20" stroke-width="0.18" text-anchor="middle">10</text>
<line x1="108.3" y1="416.4" x2="108.3" y2="418.9" stroke="#231f20" stroke-width="1" stroke-linecap="butt"/>
<text x="108.3" y="428.8" font-size="8" font-weight="normal" fill="#231f20" stroke="#231f20" stroke-width="0.18" text-anchor="middle">17</text>
<line x1="132.2" y1="416.4" x2="132.2" y2="418.9" stroke="#231f20" stroke-width="1" stroke-linecap="butt"/>
<text x="132.2" y="428.8" font-size="8" font-weight="normal" fill="#231f20" stroke="#231f20" stroke-width="0.18" text-anchor="middle">24</text>
<polyline points="50.2,416.4 60.1,348 84.3,382.5 108.3,410.5 132.2,416" fill="none" stroke="#c8102e" stroke-width="1.5" stroke-linejoin="round"/>
<circle cx="50.2" cy="416.4" r="2.25" fill="#c8102e"/>
<circle cx="60.1" cy="348" r="2.25" fill="#c8102e"/>
<circle cx="84.3" cy="382.5" r="2.25" fill="#c8102e"/>
<circle cx="108.3" cy="410.5" r="2.25" fill="#c8102e"/>
<circle cx="132.2" cy="416" r="2.25" fill="#c8102e"/>
<line x1="106.65" y1="402.65" x2="106.65" y2="404.95" stroke="#333333" stroke-width="0.75" stroke-linecap="butt"/>
<line x1="105.65" y1="403.23" x2="107.65" y2="404.38" stroke="#333333" stroke-width="0.75" stroke-linecap="butt"/>
<line x1="107.65" y1="403.23" x2="105.65" y2="404.38" stroke="#333333" stroke-width="0.75" stroke-linecap="butt"/>
<line x1="109.95" y1="402.65" x2="109.95" y2="404.95" stroke="#333333" stroke-width="0.75" stroke-linecap="butt"/>
<line x1="108.95" y1="403.23" x2="110.95" y2="404.38" stroke="#333333" stroke-width="0.75" stroke-linecap="butt"/>
<line x1="110.95" y1="403.23" x2="108.95" y2="404.38" stroke="#333333" stroke-width="0.75" stroke-linecap="butt"/>
<line x1="127.25" y1="408.25" x2="127.25" y2="410.55" stroke="#333333" stroke-width="0.75" stroke-linecap="butt"/>
<line x1="126.25" y1="408.82" x2="128.25" y2="409.97" stroke="#333333" stroke-width="0.75" stroke-linecap="butt"/>
<line x1="128.25" y1="408.82" x2="126.25" y2="409.97" stroke="#333333" stroke-width="0.75" stroke-linecap="butt"/>
<line x1="130.55" y1="408.25" x2="130.55" y2="410.55" stroke="#333333" stroke-width="0.75" stroke-linecap="butt"/>
<line x1="129.55" y1="408.82" x2="131.55" y2="409.97" stroke="#333333" stroke-width="0.75" stroke-linecap="butt"/>
<line x1="131.55" y1="408.82" x2="129.55" y2="409.97" stroke="#333333" stroke-width="0.75" stroke-linecap="butt"/>
<line x1="133.85" y1="408.25" x2="133.85" y2="410.55" stroke="#333333" stroke-width="0.75" stroke-linecap="butt"/>
<line x1="132.85" y1="408.82" x2="134.85" y2="409.97" stroke="#333333" stroke-width="0.75" stroke-linecap="butt"/>
<line x1="134.85" y1="408.82" x2="132.85" y2="409.97" stroke="#333333" stroke-width="0.75" stroke-linecap="butt"/>
<line x1="137.15" y1="408.25" x2="137.15" y2="410.55" stroke="#333333" stroke-width="0.75" stroke-linecap="butt"/>
<line x1="136.15" y1="408.82" x2="138.15" y2="409.97" stroke="#333333" stroke-width="0.75" stroke-linecap="butt"/>
<line x1="138.15" y1="408.82" x2="136.15" y2="409.97" stroke="#333333" stroke-width="0.75" stroke-linecap="butt"/>
<text x="190.8" y="322" font-size="9.3" font-weight="normal" fill="#231f20" stroke="#231f20" stroke-width="0.22" textLength="51.7" lengthAdjust="spacingAndGlyphs">Granzyme B</text>
<line x1="184.6" y1="340.8" x2="184.6" y2="384.5" stroke="#4a4a4a" stroke-width="1.15" stroke-linecap="butt"/>
<line x1="182.4" y1="340.8" x2="186.8" y2="340.8" stroke="#4a4a4a" stroke-width="1.15" stroke-linecap="butt"/>
<line x1="182.4" y1="384.5" x2="186.8" y2="384.5" stroke="#4a4a4a" stroke-width="1.15" stroke-linecap="butt"/>
<line x1="208.7" y1="352.5" x2="208.7" y2="388.3" stroke="#4a4a4a" stroke-width="1.15" stroke-linecap="butt"/>
<line x1="206.5" y1="352.5" x2="210.9" y2="352.5" stroke="#4a4a4a" stroke-width="1.15" stroke-linecap="butt"/>
<line x1="206.5" y1="388.3" x2="210.9" y2="388.3" stroke="#4a4a4a" stroke-width="1.15" stroke-linecap="butt"/>
<line x1="232.8" y1="373.3" x2="232.8" y2="392.5" stroke="#4a4a4a" stroke-width="1.15" stroke-linecap="butt"/>
<line x1="230.6" y1="373.3" x2="235" y2="373.3" stroke="#4a4a4a" stroke-width="1.15" stroke-linecap="butt"/>
<line x1="230.6" y1="392.5" x2="235" y2="392.5" stroke="#4a4a4a" stroke-width="1.15" stroke-linecap="butt"/>
<line x1="256.9" y1="382.5" x2="256.9" y2="395" stroke="#4a4a4a" stroke-width="1.15" stroke-linecap="butt"/>
<line x1="254.7" y1="382.5" x2="259.1" y2="382.5" stroke="#4a4a4a" stroke-width="1.15" stroke-linecap="butt"/>
<line x1="254.7" y1="395" x2="259.1" y2="395" stroke="#4a4a4a" stroke-width="1.15" stroke-linecap="butt"/>
<line x1="174.6" y1="327.5" x2="174.6" y2="417" stroke="#231f20" stroke-width="1.3" stroke-linecap="butt"/>
<line x1="174" y1="416.4" x2="260" y2="416.4" stroke="#231f20" stroke-width="1.3" stroke-linecap="butt"/>
<line x1="171.6" y1="330.5" x2="174.6" y2="330.5" stroke="#231f20" stroke-width="1" stroke-linecap="butt"/>
<text x="169.1" y="333.2" font-size="8" fill="#231f20" stroke="#231f20" stroke-width="0.18" text-anchor="end">30,000</text>
<line x1="171.6" y1="359.3" x2="174.6" y2="359.3" stroke="#231f20" stroke-width="1" stroke-linecap="butt"/>
<text x="169.1" y="362" font-size="8" fill="#231f20" stroke="#231f20" stroke-width="0.18" text-anchor="end">20,000</text>
<line x1="171.6" y1="388" x2="174.6" y2="388" stroke="#231f20" stroke-width="1" stroke-linecap="butt"/>
<text x="169.1" y="390.7" font-size="8" fill="#231f20" stroke="#231f20" stroke-width="0.18" text-anchor="end">10,000</text>
<line x1="171.6" y1="416.4" x2="174.6" y2="416.4" stroke="#231f20" stroke-width="1" stroke-linecap="butt"/>
<text x="169.1" y="419.1" font-size="8" fill="#231f20" stroke="#231f20" stroke-width="0.18" text-anchor="end">0</text>
<line x1="174.7" y1="416.4" x2="174.7" y2="418.9" stroke="#231f20" stroke-width="1" stroke-linecap="butt"/>
<text x="174.7" y="428.8" font-size="8" font-weight="normal" fill="#231f20" stroke="#231f20" stroke-width="0.18" text-anchor="middle">0</text>
<line x1="184.6" y1="416.4" x2="184.6" y2="418.9" stroke="#231f20" stroke-width="1" stroke-linecap="butt"/>
<text x="184.6" y="428.8" font-size="8" font-weight="normal" fill="#231f20" stroke="#231f20" stroke-width="0.18" text-anchor="middle">3</text>
<line x1="208.7" y1="416.4" x2="208.7" y2="418.9" stroke="#231f20" stroke-width="1" stroke-linecap="butt"/>
<text x="208.7" y="428.8" font-size="8" font-weight="normal" fill="#231f20" stroke="#231f20" stroke-width="0.18" text-anchor="middle">10</text>
<line x1="232.8" y1="416.4" x2="232.8" y2="418.9" stroke="#231f20" stroke-width="1" stroke-linecap="butt"/>
<text x="232.8" y="428.8" font-size="8" font-weight="normal" fill="#231f20" stroke="#231f20" stroke-width="0.18" text-anchor="middle">17</text>
<line x1="256.9" y1="416.4" x2="256.9" y2="418.9" stroke="#231f20" stroke-width="1" stroke-linecap="butt"/>
<text x="256.9" y="428.8" font-size="8" font-weight="normal" fill="#231f20" stroke="#231f20" stroke-width="0.18" text-anchor="middle">24</text>
<polyline points="174.7,416.4 184.6,363 208.7,370.5 232.8,383.3 256.9,388.8" fill="none" stroke="#c8102e" stroke-width="1.5" stroke-linejoin="round"/>
<circle cx="174.7" cy="416.4" r="2.25" fill="#c8102e"/>
<circle cx="184.6" cy="363" r="2.25" fill="#c8102e"/>
<circle cx="208.7" cy="370.5" r="2.25" fill="#c8102e"/>
<circle cx="232.8" cy="383.3" r="2.25" fill="#c8102e"/>
<circle cx="256.9" cy="388.8" r="2.25" fill="#c8102e"/>
<text x="76.3" y="442.1" font-size="8.8" font-weight="normal" fill="#231f20" stroke="#231f20" stroke-width="0.22" textLength="12.5" lengthAdjust="spacingAndGlyphs">Day</text>
<line x1="91.5" y1="439.7" x2="261.8" y2="439.7" stroke="#444" stroke-width="1.1" stroke-linecap="butt"/>
<text x="281.3" y="183.8" font-size="10.5" font-weight="bold" fill="#000" stroke="#000" stroke-width="0.35" textLength="8.2" lengthAdjust="spacingAndGlyphs">D</text>
<text x="383" y="183.5" font-size="9.2" font-weight="normal" fill="#231f20" stroke="#231f20" stroke-width="0.12" textLength="22.5" lengthAdjust="spacingAndGlyphs">IFN-γ</text>
<text x="405.6" y="180" font-size="6.6" font-weight="normal" fill="#231f20" stroke="#231f20" stroke-width="0.1" textLength="4" lengthAdjust="spacingAndGlyphs">+</text>
<text x="410.1" y="183.5" font-size="9.2" font-weight="normal" fill="#231f20" stroke="#231f20" stroke-width="0.12" textLength="26.5" lengthAdjust="spacingAndGlyphs">TNF-α</text>
<text x="436.9" y="180" font-size="6.6" font-weight="normal" fill="#231f20" stroke="#231f20" stroke-width="0.1" textLength="4" lengthAdjust="spacingAndGlyphs">+</text>
<rect x="332.5" y="240" width="9.3" height="53" fill="#c8102e"/>
<line x1="337.15" y1="219.5" x2="337.15" y2="240" stroke="#4a4a4a" stroke-width="1.25" stroke-linecap="butt"/>
<line x1="334.65" y1="219.5" x2="339.65" y2="219.5" stroke="#4a4a4a" stroke-width="1.25" stroke-linecap="butt"/>
<rect x="352.5" y="222.5" width="8.8" height="70.5" fill="#0d4f8b"/>
<line x1="356.9" y1="205.5" x2="356.9" y2="222.5" stroke="#4a4a4a" stroke-width="1.25" stroke-linecap="butt"/>
<line x1="354.4" y1="205.5" x2="359.4" y2="205.5" stroke="#4a4a4a" stroke-width="1.25" stroke-linecap="butt"/>
<rect x="372.5" y="253.8" width="8.8" height="39.2" fill="#5b2a6e"/>
<line x1="376.9" y1="249.5" x2="376.9" y2="253.8" stroke="#4a4a4a" stroke-width="1.25" stroke-linecap="butt"/>
<line x1="374.4" y1="249.5" x2="379.4" y2="249.5" stroke="#4a4a4a" stroke-width="1.25" stroke-linecap="butt"/>
<line x1="323.3" y1="190" x2="323.3" y2="293.6" stroke="#231f20" stroke-width="1.3" stroke-linecap="butt"/>
<line x1="320.4" y1="293" x2="385.6" y2="293" stroke="#231f20" stroke-width="1.3" stroke-linecap="butt"/>
<line x1="320.1" y1="193.8" x2="323.3" y2="193.8" stroke="#231f20" stroke-width="1.1" stroke-linecap="butt"/>
<text x="309.22" y="196.65" font-size="8" fill="#231f20" stroke="#231f20" stroke-width="0.18" textLength="8.18" lengthAdjust="spacingAndGlyphs">20</text>
<line x1="320.1" y1="218.8" x2="323.3" y2="218.8" stroke="#231f20" stroke-width="1.1" stroke-linecap="butt"/>
<text x="309.22" y="221.65" font-size="8" fill="#231f20" stroke="#231f20" stroke-width="0.18" textLength="8.18" lengthAdjust="spacingAndGlyphs">15</text>
<line x1="320.1" y1="243.3" x2="323.3" y2="243.3" stroke="#231f20" stroke-width="1.1" stroke-linecap="butt"/>
<text x="309.22" y="246.15" font-size="8" fill="#231f20" stroke="#231f20" stroke-width="0.18" textLength="8.18" lengthAdjust="spacingAndGlyphs">10</text>
<line x1="320.1" y1="268.3" x2="323.3" y2="268.3" stroke="#231f20" stroke-width="1.1" stroke-linecap="butt"/>
<text x="313.31" y="271.15" font-size="8" fill="#231f20" stroke="#231f20" stroke-width="0.18" textLength="4.09" lengthAdjust="spacingAndGlyphs">5</text>
<line x1="320.1" y1="293" x2="323.3" y2="293" stroke="#231f20" stroke-width="1.1" stroke-linecap="butt"/>
<text x="313.31" y="295.85" font-size="8" fill="#231f20" stroke="#231f20" stroke-width="0.18" textLength="4.09" lengthAdjust="spacingAndGlyphs">0</text>
<line x1="337.1" y1="293" x2="337.1" y2="295.5" stroke="#231f20" stroke-width="1" stroke-linecap="butt"/>
<text x="337.1" y="305" font-size="7.6" font-weight="normal" fill="#231f20" stroke="#231f20" stroke-width="0.18" text-anchor="middle">0</text>
<line x1="356.9" y1="293" x2="356.9" y2="295.5" stroke="#231f20" stroke-width="1" stroke-linecap="butt"/>
<text x="356.9" y="305" font-size="7.6" font-weight="normal" fill="#231f20" stroke="#231f20" stroke-width="0.18" text-anchor="middle">7</text>
<line x1="376.9" y1="293" x2="376.9" y2="295.5" stroke="#231f20" stroke-width="1" stroke-linecap="butt"/>
<text x="376.9" y="305" font-size="7.6" font-weight="normal" fill="#231f20" stroke="#231f20" stroke-width="0.18" text-anchor="middle">21</text>
<text transform="translate(303.1 258.7) rotate(-90)" x="0" y="0" font-size="9" fill="#231f20" stroke="#231f20" stroke-width="0.25" textLength="29.8" lengthAdjust="spacingAndGlyphs">% of CD4</text>
<text transform="translate(299.6 228.19) rotate(-90)" x="0" y="0" font-size="7" fill="#231f20" stroke="#231f20" stroke-width="0.2" textLength="3.68" lengthAdjust="spacingAndGlyphs">+</text>
<rect x="443.8" y="229.3" width="8.3" height="63.7" fill="#c8102e"/>
<line x1="447.95" y1="205.2" x2="447.95" y2="229.3" stroke="#4a4a4a" stroke-width="1.25" stroke-linecap="butt"/>
<line x1="445.45" y1="205.2" x2="450.45" y2="205.2" stroke="#4a4a4a" stroke-width="1.25" stroke-linecap="butt"/>
<rect x="463.3" y="217" width="8.7" height="76" fill="#0d4f8b"/>
<line x1="467.65" y1="200.8" x2="467.65" y2="217" stroke="#4a4a4a" stroke-width="1.25" stroke-linecap="butt"/>
<line x1="465.15" y1="200.8" x2="470.15" y2="200.8" stroke="#4a4a4a" stroke-width="1.25" stroke-linecap="butt"/>
<rect x="483.3" y="260.8" width="8.7" height="32.2" fill="#5b2a6e"/>
<line x1="487.65" y1="256.5" x2="487.65" y2="260.8" stroke="#4a4a4a" stroke-width="1.25" stroke-linecap="butt"/>
<line x1="485.15" y1="256.5" x2="490.15" y2="256.5" stroke="#4a4a4a" stroke-width="1.25" stroke-linecap="butt"/>
<line x1="434.3" y1="190.5" x2="434.3" y2="293.6" stroke="#231f20" stroke-width="1.3" stroke-linecap="butt"/>
<line x1="431.3" y1="293" x2="496.5" y2="293" stroke="#231f20" stroke-width="1.3" stroke-linecap="butt"/>
<line x1="431.1" y1="194" x2="434.3" y2="194" stroke="#231f20" stroke-width="1.1" stroke-linecap="butt"/>
<text x="420.22" y="196.85" font-size="8" fill="#231f20" stroke="#231f20" stroke-width="0.18" textLength="8.18" lengthAdjust="spacingAndGlyphs">30</text>
<line x1="431.1" y1="226.8" x2="434.3" y2="226.8" stroke="#231f20" stroke-width="1.1" stroke-linecap="butt"/>
<text x="420.22" y="229.65" font-size="8" fill="#231f20" stroke="#231f20" stroke-width="0.18" textLength="8.18" lengthAdjust="spacingAndGlyphs">20</text>
<line x1="431.1" y1="260" x2="434.3" y2="260" stroke="#231f20" stroke-width="1.1" stroke-linecap="butt"/>
<text x="420.22" y="262.85" font-size="8" fill="#231f20" stroke="#231f20" stroke-width="0.18" textLength="8.18" lengthAdjust="spacingAndGlyphs">10</text>
<line x1="431.1" y1="293" x2="434.3" y2="293" stroke="#231f20" stroke-width="1.1" stroke-linecap="butt"/>
<text x="424.31" y="295.85" font-size="8" fill="#231f20" stroke="#231f20" stroke-width="0.18" textLength="4.09" lengthAdjust="spacingAndGlyphs">0</text>
<line x1="447.9" y1="293" x2="447.9" y2="295.5" stroke="#231f20" stroke-width="1" stroke-linecap="butt"/>
<text x="447.9" y="305" font-size="7.6" font-weight="normal" fill="#231f20" stroke="#231f20" stroke-width="0.18" text-anchor="middle">0</text>
<line x1="467.6" y1="293" x2="467.6" y2="295.5" stroke="#231f20" stroke-width="1" stroke-linecap="butt"/>
<text x="467.6" y="305" font-size="7.6" font-weight="normal" fill="#231f20" stroke="#231f20" stroke-width="0.18" text-anchor="middle">7</text>
<line x1="487.6" y1="293" x2="487.6" y2="295.5" stroke="#231f20" stroke-width="1" stroke-linecap="butt"/>
<text x="487.6" y="305" font-size="7.6" font-weight="normal" fill="#231f20" stroke="#231f20" stroke-width="0.18" text-anchor="middle">21</text>
<text transform="translate(410.3 258.7) rotate(-90)" x="0" y="0" font-size="9" fill="#231f20" stroke="#231f20" stroke-width="0.25" textLength="30.2" lengthAdjust="spacingAndGlyphs">% of CD8</text>
<text transform="translate(406.7 227.79) rotate(-90)" x="0" y="0" font-size="7" fill="#231f20" stroke="#231f20" stroke-width="0.2" textLength="3.68" lengthAdjust="spacingAndGlyphs">+</text>
<text x="344" y="318.8" font-size="8.8" font-weight="normal" fill="#231f20" stroke="#231f20" stroke-width="0.22" textLength="12.4" lengthAdjust="spacingAndGlyphs">Day</text>
<line x1="359.7" y1="316.3" x2="496.5" y2="316.3" stroke="#444" stroke-width="1.1" stroke-linecap="butt"/>
<ellipse cx="337.8" cy="372.6" rx="10" ry="7.6" transform="rotate(-32 337.8 372.6)" fill="#f0f0f0" stroke="#d2d2d2" stroke-width="0.7"/>
<ellipse cx="337.8" cy="372.6" rx="8.25" ry="6.27" transform="rotate(-32 337.8 372.6)" fill="#ededed" stroke="#c4c4c4" stroke-width="0.7"/>
<ellipse cx="337.8" cy="372.6" rx="6.5" ry="4.94" transform="rotate(-32 337.8 372.6)" fill="#eaeaea" stroke="#b6b6b6" stroke-width="0.7"/>
<ellipse cx="337.8" cy="372.6" rx="4.75" ry="3.61" transform="rotate(-32 337.8 372.6)" fill="#e7e7e7" stroke="#a8a8a8" stroke-width="0.7"/>
<ellipse cx="337.8" cy="372.6" rx="3" ry="2.28" transform="rotate(-32 337.8 372.6)" fill="#fff" stroke="#9b9b9b" stroke-width="0.7"/>
<ellipse cx="322" cy="380" rx="3.2" ry="8" transform="rotate(18 322 380)" fill="none" stroke="#c3c3c3" stroke-width="0.6"/>
<ellipse cx="319.8" cy="393" rx="11.2" ry="8.2" transform="rotate(-65 319.8 393)" fill="#ececec" stroke="#c8c8c8" stroke-width="0.7"/>
<ellipse cx="320" cy="392.88" rx="9.24" ry="6.76" transform="rotate(-65 320 392.88)" fill="#e8e8e8" stroke="#b5b5b5" stroke-width="0.7"/>
<ellipse cx="320.2" cy="392.75" rx="7.28" ry="5.33" transform="rotate(-65 320.2 392.75)" fill="#e5e5e5" stroke="#a2a2a2" stroke-width="0.7"/>
<ellipse cx="320.4" cy="392.62" rx="5.32" ry="3.9" transform="rotate(-65 320.4 392.62)" fill="#e1e1e1" stroke="#8f8f8f" stroke-width="0.7"/>
<ellipse cx="320.6" cy="392.5" rx="3.36" ry="2.46" transform="rotate(-65 320.6 392.5)" fill="#fff" stroke="#7d7d7d" stroke-width="0.7"/>
<rect x="296.4" y="350.7" width="67.1" height="64.6" fill="none" stroke="#111" stroke-width="1.3"/>
<line x1="326.7" y1="350.7" x2="326.7" y2="415.3" stroke="#111" stroke-width="1.3" stroke-linecap="butt"/>
<line x1="296.4" y1="384" x2="363.5" y2="384" stroke="#111" stroke-width="1.3" stroke-linecap="butt"/>
<rect x="326.7" y="350.7" width="36.8" height="33.3" fill="none" stroke="#000" stroke-width="2"/>
<text x="317.6" y="345.3" font-size="10" font-weight="normal" fill="#231f20" stroke="#231f20" stroke-width="0.22" textLength="24.7" lengthAdjust="spacingAndGlyphs">Day 0</text>
<text x="345" y="360.2" font-size="7.8" font-weight="normal" fill="#231f20" stroke="#231f20" stroke-width="0.08" textLength="14.6" lengthAdjust="spacingAndGlyphs">20.6</text>
<ellipse cx="410" cy="393.5" rx="11.5" ry="5" transform="rotate(-48 410 393.5)" fill="none" stroke="#c3c3c3" stroke-width="0.5"/>
<ellipse cx="410" cy="393.5" rx="8.05" ry="3.5" transform="rotate(-48 410 393.5)" fill="none" stroke="#cdcdcd" stroke-width="0.5"/>
<ellipse cx="410" cy="393.5" rx="4.6" ry="2" transform="rotate(-48 410 393.5)" fill="none" stroke="#d7d7d7" stroke-width="0.5"/>
<ellipse cx="410" cy="393.5" rx="1.15" ry="0.5" transform="rotate(-48 410 393.5)" fill="none" stroke="#e1e1e1" stroke-width="0.5"/>
<ellipse cx="413.6" cy="373.2" rx="12" ry="10" transform="rotate(-62 413.6 373.2)" fill="#ececec" stroke="#c8c8c8" stroke-width="0.7"/>
<ellipse cx="413.6" cy="373.2" rx="10.32" ry="8.6" transform="rotate(-62 413.6 373.2)" fill="#e9e9e9" stroke="#bababa" stroke-width="0.7"/>
<ellipse cx="413.6" cy="373.2" rx="8.64" ry="7.2" transform="rotate(-62 413.6 373.2)" fill="#e6e6e6" stroke="#acacac" stroke-width="0.7"/>
<ellipse cx="413.6" cy="373.2" rx="6.96" ry="5.8" transform="rotate(-62 413.6 373.2)" fill="#e3e3e3" stroke="#9e9e9e" stroke-width="0.7"/>
<ellipse cx="413.6" cy="373.2" rx="5.28" ry="4.4" transform="rotate(-62 413.6 373.2)" fill="#e0e0e0" stroke="#909090" stroke-width="0.7"/>
<ellipse cx="413.6" cy="373.2" rx="3.6" ry="3" transform="rotate(-62 413.6 373.2)" fill="#fff" stroke="#828282" stroke-width="0.7"/>
<ellipse cx="393.3" cy="375.6" rx="8.6" ry="6.8" transform="rotate(-78 393.3 375.6)" fill="#eeeeee" stroke="#cdcdcd" stroke-width="0.7"/>
<ellipse cx="393.3" cy="375.6" rx="7.09" ry="5.61" transform="rotate(-78 393.3 375.6)" fill="#ebebeb" stroke="#bebebe" stroke-width="0.7"/>
<ellipse cx="393.3" cy="375.6" rx="5.59" ry="4.42" transform="rotate(-78 393.3 375.6)" fill="#e8e8e8" stroke="#afafaf" stroke-width="0.7"/>
<ellipse cx="393.3" cy="375.6" rx="4.09" ry="3.23" transform="rotate(-78 393.3 375.6)" fill="#e5e5e5" stroke="#a0a0a0" stroke-width="0.7"/>
<ellipse cx="393.3" cy="375.6" rx="2.58" ry="2.04" transform="rotate(-78 393.3 375.6)" fill="#fff" stroke="#919191" stroke-width="0.7"/>
<ellipse cx="392.2" cy="394.2" rx="11.2" ry="7.8" transform="rotate(-70 392.2 394.2)" fill="#e2e2e2" stroke="#878787" stroke-width="0.7"/>
<ellipse cx="392.2" cy="394.2" rx="9.63" ry="6.71" transform="rotate(-70 392.2 394.2)" fill="#dedede" stroke="#7f7f7f" stroke-width="0.7"/>
<ellipse cx="392.2" cy="394.2" rx="8.06" ry="5.62" transform="rotate(-70 392.2 394.2)" fill="#dadada" stroke="#777777" stroke-width="0.7"/>
<ellipse cx="392.2" cy="394.2" rx="6.5" ry="4.52" transform="rotate(-70 392.2 394.2)" fill="#d6d6d6" stroke="#6f6f6f" stroke-width="0.7"/>
<ellipse cx="392.2" cy="394.2" rx="4.93" ry="3.43" transform="rotate(-70 392.2 394.2)" fill="#d2d2d2" stroke="#676767" stroke-width="0.7"/>
<ellipse cx="392.2" cy="394.2" rx="3.36" ry="2.34" transform="rotate(-70 392.2 394.2)" fill="#fff" stroke="#5f5f5f" stroke-width="0.7"/>
<rect x="370.6" y="350.7" width="67" height="64.6" fill="none" stroke="#111" stroke-width="1.3"/>
<line x1="401.5" y1="350.7" x2="401.5" y2="415.3" stroke="#111" stroke-width="1.3" stroke-linecap="butt"/>
<line x1="370.6" y1="383.6" x2="437.6" y2="383.6" stroke="#111" stroke-width="1.3" stroke-linecap="butt"/>
<rect x="401.5" y="350.7" width="36.1" height="32.9" fill="none" stroke="#000" stroke-width="2"/>
<text x="392.3" y="345.3" font-size="10" font-weight="normal" fill="#231f20" stroke="#231f20" stroke-width="0.22" textLength="25.5" lengthAdjust="spacingAndGlyphs">Day 7</text>
<text x="420" y="360.2" font-size="7.8" font-weight="normal" fill="#231f20" stroke="#231f20" stroke-width="0.08" textLength="14.5" lengthAdjust="spacingAndGlyphs">30.8</text>
<ellipse cx="481.5" cy="380.5" rx="5.5" ry="6.5" transform="rotate(0 481.5 380.5)" fill="none" stroke="#b4b4b4" stroke-width="0.5"/>
<ellipse cx="481.5" cy="380.5" rx="3.85" ry="4.55" transform="rotate(0 481.5 380.5)" fill="none" stroke="#bebebe" stroke-width="0.5"/>
<ellipse cx="481.5" cy="380.5" rx="2.2" ry="2.6" transform="rotate(0 481.5 380.5)" fill="none" stroke="#c8c8c8" stroke-width="0.5"/>
<ellipse cx="491.2" cy="373.9" rx="2.8" ry="1.7" transform="rotate(-10 491.2 373.9)" fill="none" stroke="#a0a0a0" stroke-width="0.6"/>
<ellipse cx="465.6" cy="384.5" rx="8.4" ry="21" transform="rotate(0 465.6 384.5)" fill="#eeeeee" stroke="#cdcdcd" stroke-width="0.7"/>
<ellipse cx="465.6" cy="384.5" rx="6.93" ry="17.32" transform="rotate(0 465.6 384.5)" fill="#ebebeb" stroke="#c1c1c1" stroke-width="0.7"/>
<ellipse cx="465.6" cy="384.5" rx="5.46" ry="13.65" transform="rotate(0 465.6 384.5)" fill="#e9e9e9" stroke="#b6b6b6" stroke-width="0.7"/>
<ellipse cx="465.6" cy="384.5" rx="3.99" ry="9.98" transform="rotate(0 465.6 384.5)" fill="#e6e6e6" stroke="#ababab" stroke-width="0.7"/>
<ellipse cx="465.6" cy="384.5" rx="2.52" ry="6.3" transform="rotate(0 465.6 384.5)" fill="#fff" stroke="#a0a0a0" stroke-width="0.7"/>
<ellipse cx="465.4" cy="376" rx="4" ry="7" transform="rotate(0 465.4 376)" fill="#e4e4e4" stroke="#aaaaaa" stroke-width="0.7"/>
<ellipse cx="465.4" cy="376" rx="3.07" ry="5.37" transform="rotate(0 465.4 376)" fill="#dfdfdf" stroke="#969696" stroke-width="0.7"/>
<ellipse cx="465.4" cy="376" rx="2.13" ry="3.73" transform="rotate(0 465.4 376)" fill="#dbdbdb" stroke="#828282" stroke-width="0.7"/>
<ellipse cx="465.4" cy="376" rx="1.2" ry="2.1" transform="rotate(0 465.4 376)" fill="#fff" stroke="#6e6e6e" stroke-width="0.7"/>
<ellipse cx="465.4" cy="394" rx="4.2" ry="7" transform="rotate(0 465.4 394)" fill="#e2e2e2" stroke="#a5a5a5" stroke-width="0.7"/>
<ellipse cx="465.4" cy="394" rx="3.22" ry="5.37" transform="rotate(0 465.4 394)" fill="#dddddd" stroke="#8f8f8f" stroke-width="0.7"/>
<ellipse cx="465.4" cy="394" rx="2.24" ry="3.73" transform="rotate(0 465.4 394)" fill="#d8d8d8" stroke="#797979" stroke-width="0.7"/>
<ellipse cx="465.4" cy="394" rx="1.26" ry="2.1" transform="rotate(0 465.4 394)" fill="#fff" stroke="#646464" stroke-width="0.7"/>
<rect x="444.6" y="351" width="67.1" height="64.4" fill="none" stroke="#111" stroke-width="1.3"/>
<line x1="474" y1="351" x2="474" y2="415.4" stroke="#111" stroke-width="1.3" stroke-linecap="butt"/>
<line x1="444.6" y1="386.5" x2="511.7" y2="386.5" stroke="#111" stroke-width="1.3" stroke-linecap="butt"/>
<rect x="474" y="351" width="37.7" height="35.5" fill="none" stroke="#000" stroke-width="2"/>
<text x="464.6" y="345.3" font-size="10" font-weight="normal" fill="#231f20" stroke="#231f20" stroke-width="0.22" textLength="29.2" lengthAdjust="spacingAndGlyphs">Day 21</text>
<text x="494.5" y="360.2" font-size="7.8" font-weight="normal" fill="#231f20" stroke="#231f20" stroke-width="0.08" textLength="13.8" lengthAdjust="spacingAndGlyphs">11.3</text>
<line x1="292.8" y1="355" x2="292.8" y2="419.6" stroke="#111" stroke-width="1.1" stroke-linecap="butt"/>
<line x1="292.2" y1="419.6" x2="508.5" y2="419.6" stroke="#111" stroke-width="1.1" stroke-linecap="butt"/>
<path d="M292.8 351.3 L290.6 356 L295 356 Z" fill="#111"/>
<path d="M512.2 419.6 L507.5 417.4 L507.5 421.8 Z" fill="#111"/>
<text transform="translate(288 382.7) rotate(-90)" x="0" y="0" font-size="10" fill="#231f20" stroke="#231f20" stroke-width="0.1" textLength="27" lengthAdjust="spacingAndGlyphs">TNF-α</text>
<text x="482.5" y="430.8" font-size="10" font-weight="normal" fill="#231f20" stroke="#231f20" stroke-width="0.1" textLength="22.1" lengthAdjust="spacingAndGlyphs">IFN-γ</text>
<text x="6.8" y="463" font-size="10.5" font-weight="bold" fill="#000" stroke="#000" stroke-width="0.35" textLength="6.4" lengthAdjust="spacingAndGlyphs">E</text>
<text x="107.5" y="463" font-size="9" font-weight="normal" fill="#231f20" stroke="#231f20" stroke-width="0.22" textLength="58" lengthAdjust="spacingAndGlyphs">hCD19-Ba/F3</text>
<text x="53.8" y="477.5" font-size="9.3" font-weight="normal" fill="#231f20" stroke="#231f20" stroke-width="0.22" textLength="51.2" lengthAdjust="spacingAndGlyphs">Proliferation</text>
<text x="168.3" y="475" font-size="9.3" font-weight="normal" fill="#231f20" stroke="#231f20" stroke-width="0.22" textLength="50.5" lengthAdjust="spacingAndGlyphs">Cytotoxicity</text>
<line x1="65.9" y1="491.5" x2="107.8" y2="491.5" stroke="#333333" stroke-width="1.15" stroke-linecap="butt"/>
<line x1="81.55" y1="487.35" x2="81.55" y2="489.65" stroke="#333333" stroke-width="0.75" stroke-linecap="butt"/>
<line x1="80.55" y1="487.93" x2="82.55" y2="489.07" stroke="#333333" stroke-width="0.75" stroke-linecap="butt"/>
<line x1="82.55" y1="487.93" x2="80.55" y2="489.07" stroke="#333333" stroke-width="0.75" stroke-linecap="butt"/>
<line x1="84.85" y1="487.35" x2="84.85" y2="489.65" stroke="#333333" stroke-width="0.75" stroke-linecap="butt"/>
<line x1="83.85" y1="487.93" x2="85.85" y2="489.07" stroke="#333333" stroke-width="0.75" stroke-linecap="butt"/>
<line x1="85.85" y1="487.93" x2="83.85" y2="489.07" stroke="#333333" stroke-width="0.75" stroke-linecap="butt"/>
<line x1="88.15" y1="487.35" x2="88.15" y2="489.65" stroke="#333333" stroke-width="0.75" stroke-linecap="butt"/>
<line x1="87.15" y1="487.93" x2="89.15" y2="489.07" stroke="#333333" stroke-width="0.75" stroke-linecap="butt"/>
<line x1="89.15" y1="487.93" x2="87.15" y2="489.07" stroke="#333333" stroke-width="0.75" stroke-linecap="butt"/>
<line x1="91.45" y1="487.35" x2="91.45" y2="489.65" stroke="#333333" stroke-width="0.75" stroke-linecap="butt"/>
<line x1="90.45" y1="487.93" x2="92.45" y2="489.07" stroke="#333333" stroke-width="0.75" stroke-linecap="butt"/>
<line x1="92.45" y1="487.93" x2="90.45" y2="489.07" stroke="#333333" stroke-width="0.75" stroke-linecap="butt"/>
<line x1="65.9" y1="499.5" x2="99.3" y2="499.5" stroke="#333333" stroke-width="1.15" stroke-linecap="butt"/>
<line x1="80.95" y1="495.35" x2="80.95" y2="497.65" stroke="#333333" stroke-width="0.75" stroke-linecap="butt"/>
<line x1="79.95" y1="495.93" x2="81.95" y2="497.07" stroke="#333333" stroke-width="0.75" stroke-linecap="butt"/>
<line x1="81.95" y1="495.93" x2="79.95" y2="497.07" stroke="#333333" stroke-width="0.75" stroke-linecap="butt"/>
<line x1="84.25" y1="495.35" x2="84.25" y2="497.65" stroke="#333333" stroke-width="0.75" stroke-linecap="butt"/>
<line x1="83.25" y1="495.93" x2="85.25" y2="497.07" stroke="#333333" stroke-width="0.75" stroke-linecap="butt"/>
<line x1="85.25" y1="495.93" x2="83.25" y2="497.07" stroke="#333333" stroke-width="0.75" stroke-linecap="butt"/>
<rect x="51.3" y="571.4" width="8.9" height="26.4" fill="#c8102e"/>
<line x1="55.75" y1="569.8" x2="55.75" y2="571.4" stroke="#4a4a4a" stroke-width="1.25" stroke-linecap="butt"/>
<line x1="53.25" y1="569.8" x2="58.25" y2="569.8" stroke="#4a4a4a" stroke-width="1.25" stroke-linecap="butt"/>
<rect x="63.4" y="515" width="8.9" height="82.8" fill="#0d4f8b"/>
<line x1="67.85" y1="503.3" x2="67.85" y2="515" stroke="#4a4a4a" stroke-width="1.25" stroke-linecap="butt"/>
<line x1="65.35" y1="503.3" x2="70.35" y2="503.3" stroke="#4a4a4a" stroke-width="1.25" stroke-linecap="butt"/>
<rect x="75.4" y="569.3" width="8.7" height="28.5" fill="#3bb54a"/>
<line x1="79.75" y1="560.2" x2="79.75" y2="569.3" stroke="#4a4a4a" stroke-width="1.25" stroke-linecap="butt"/>
<line x1="77.25" y1="560.2" x2="82.25" y2="560.2" stroke="#4a4a4a" stroke-width="1.25" stroke-linecap="butt"/>
<rect x="87.7" y="594" width="8.5" height="3.8" fill="#5b2a6e"/>
<line x1="91.95" y1="592.2" x2="91.95" y2="594" stroke="#4a4a4a" stroke-width="1.25" stroke-linecap="butt"/>
<line x1="89.45" y1="592.2" x2="94.45" y2="592.2" stroke="#4a4a4a" stroke-width="1.25" stroke-linecap="butt"/>
<rect x="100" y="596.2" width="8.4" height="1.6" fill="#ff8c00"/>
<line x1="104.2" y1="595" x2="104.2" y2="596.2" stroke="#4a4a4a" stroke-width="1.25" stroke-linecap="butt"/>
<line x1="101.7" y1="595" x2="106.7" y2="595" stroke="#4a4a4a" stroke-width="1.25" stroke-linecap="butt"/>
<line x1="46.9" y1="494.3" x2="46.9" y2="598.4" stroke="#231f20" stroke-width="1.3" stroke-linecap="butt"/>
<line x1="43.8" y1="597.8" x2="112.5" y2="597.8" stroke="#231f20" stroke-width="1.3" stroke-linecap="butt"/>
<line x1="43.7" y1="498" x2="46.9" y2="498" stroke="#231f20" stroke-width="1.1" stroke-linecap="butt"/>
<text x="41" y="500.85" font-size="8" fill="#231f20" stroke="#231f20" stroke-width="0.18" text-anchor="end">2.5</text>
<line x1="43.7" y1="517.9" x2="46.9" y2="517.9" stroke="#231f20" stroke-width="1.1" stroke-linecap="butt"/>
<text x="41" y="520.75" font-size="8" fill="#231f20" stroke="#231f20" stroke-width="0.18" text-anchor="end">2.0</text>
<line x1="43.7" y1="537.8" x2="46.9" y2="537.8" stroke="#231f20" stroke-width="1.1" stroke-linecap="butt"/>
<text x="41" y="540.65" font-size="8" fill="#231f20" stroke="#231f20" stroke-width="0.18" text-anchor="end">1.5</text>
<line x1="43.7" y1="557.9" x2="46.9" y2="557.9" stroke="#231f20" stroke-width="1.1" stroke-linecap="butt"/>
<text x="41" y="560.75" font-size="8" fill="#231f20" stroke="#231f20" stroke-width="0.18" text-anchor="end">1.0</text>
<line x1="43.7" y1="577.8" x2="46.9" y2="577.8" stroke="#231f20" stroke-width="1.1" stroke-linecap="butt"/>
<text x="41" y="580.65" font-size="8" fill="#231f20" stroke="#231f20" stroke-width="0.18" text-anchor="end">0.5</text>
<line x1="43.7" y1="597.8" x2="46.9" y2="597.8" stroke="#231f20" stroke-width="1.1" stroke-linecap="butt"/>
<text x="41" y="600.65" font-size="8" fill="#231f20" stroke="#231f20" stroke-width="0.18" text-anchor="end">0.0</text>
<line x1="55.7" y1="597.8" x2="55.7" y2="600.3" stroke="#231f20" stroke-width="1" stroke-linecap="butt"/>
<text x="55.7" y="609.6" font-size="7.6" font-weight="normal" fill="#231f20" stroke="#231f20" stroke-width="0.18" text-anchor="middle">0</text>
<line x1="67.8" y1="597.8" x2="67.8" y2="600.3" stroke="#231f20" stroke-width="1" stroke-linecap="butt"/>
<text x="67.8" y="609.6" font-size="7.6" font-weight="normal" fill="#231f20" stroke="#231f20" stroke-width="0.18" text-anchor="middle">7</text>
<line x1="79.8" y1="597.8" x2="79.8" y2="600.3" stroke="#231f20" stroke-width="1" stroke-linecap="butt"/>
<text x="79.8" y="609.6" font-size="7.6" font-weight="normal" fill="#231f20" stroke="#231f20" stroke-width="0.18" text-anchor="middle">14</text>
<line x1="92" y1="597.8" x2="92" y2="600.3" stroke="#231f20" stroke-width="1" stroke-linecap="butt"/>
<text x="92" y="609.6" font-size="7.6" font-weight="normal" fill="#231f20" stroke="#231f20" stroke-width="0.18" text-anchor="middle">21</text>
<line x1="104.2" y1="597.8" x2="104.2" y2="600.3" stroke="#231f20" stroke-width="1" stroke-linecap="butt"/>
<text x="104.2" y="609.6" font-size="7.6" font-weight="normal" fill="#231f20" stroke="#231f20" stroke-width="0.18" text-anchor="middle">28</text>
<line x1="46.35" y1="558" x2="112.5" y2="558" stroke="#1a1a1a" stroke-width="1.25" stroke-linecap="butt" stroke-dasharray="1.6,1.45"/>
<text transform="translate(24.3 576) rotate(-90)" x="0" y="0" font-size="9" fill="#231f20" stroke="#231f20" stroke-width="0.25" textLength="13" lengthAdjust="spacingAndGlyphs">CD2</text>
<text transform="translate(21.2 562.14) rotate(-90)" x="0" y="0" font-size="7" fill="#231f20" stroke="#231f20" stroke-width="0.2" textLength="3.68" lengthAdjust="spacingAndGlyphs">+</text>
<text transform="translate(24.3 557) rotate(-90)" x="0" y="0" font-size="9" fill="#231f20" stroke="#231f20" stroke-width="0.25" textLength="38.7" lengthAdjust="spacingAndGlyphs">fold change</text>
<line x1="166.8" y1="485.5" x2="220.8" y2="485.5" stroke="#333333" stroke-width="1.15" stroke-linecap="butt"/>
<line x1="190.5" y1="481.35" x2="190.5" y2="483.65" stroke="#333333" stroke-width="0.75" stroke-linecap="butt"/>
<line x1="189.5" y1="481.93" x2="191.5" y2="483.07" stroke="#333333" stroke-width="0.75" stroke-linecap="butt"/>
<line x1="191.5" y1="481.93" x2="189.5" y2="483.07" stroke="#333333" stroke-width="0.75" stroke-linecap="butt"/>
<line x1="193.8" y1="481.35" x2="193.8" y2="483.65" stroke="#333333" stroke-width="0.75" stroke-linecap="butt"/>
<line x1="192.8" y1="481.93" x2="194.8" y2="483.07" stroke="#333333" stroke-width="0.75" stroke-linecap="butt"/>
<line x1="194.8" y1="481.93" x2="192.8" y2="483.07" stroke="#333333" stroke-width="0.75" stroke-linecap="butt"/>
<line x1="197.1" y1="481.35" x2="197.1" y2="483.65" stroke="#333333" stroke-width="0.75" stroke-linecap="butt"/>
<line x1="196.1" y1="481.93" x2="198.1" y2="483.07" stroke="#333333" stroke-width="0.75" stroke-linecap="butt"/>
<line x1="198.1" y1="481.93" x2="196.1" y2="483.07" stroke="#333333" stroke-width="0.75" stroke-linecap="butt"/>
<line x1="181.3" y1="493.5" x2="220.8" y2="493.5" stroke="#333333" stroke-width="1.15" stroke-linecap="butt"/>
<line x1="197.2" y1="489.35" x2="197.2" y2="491.65" stroke="#333333" stroke-width="0.75" stroke-linecap="butt"/>
<line x1="196.2" y1="489.93" x2="198.2" y2="491.07" stroke="#333333" stroke-width="0.75" stroke-linecap="butt"/>
<line x1="198.2" y1="489.93" x2="196.2" y2="491.07" stroke="#333333" stroke-width="0.75" stroke-linecap="butt"/>
<line x1="200.5" y1="489.35" x2="200.5" y2="491.65" stroke="#333333" stroke-width="0.75" stroke-linecap="butt"/>
<line x1="199.5" y1="489.93" x2="201.5" y2="491.07" stroke="#333333" stroke-width="0.75" stroke-linecap="butt"/>
<line x1="201.5" y1="489.93" x2="199.5" y2="491.07" stroke="#333333" stroke-width="0.75" stroke-linecap="butt"/>
<line x1="203.8" y1="489.35" x2="203.8" y2="491.65" stroke="#333333" stroke-width="0.75" stroke-linecap="butt"/>
<line x1="202.8" y1="489.93" x2="204.8" y2="491.07" stroke="#333333" stroke-width="0.75" stroke-linecap="butt"/>
<line x1="204.8" y1="489.93" x2="202.8" y2="491.07" stroke="#333333" stroke-width="0.75" stroke-linecap="butt"/>
<line x1="180.3" y1="501.5" x2="212.1" y2="501.5" stroke="#333333" stroke-width="1.15" stroke-linecap="butt"/>
<line x1="195.5" y1="497.35" x2="195.5" y2="499.65" stroke="#333333" stroke-width="0.75" stroke-linecap="butt"/>
<line x1="194.5" y1="497.93" x2="196.5" y2="499.07" stroke="#333333" stroke-width="0.75" stroke-linecap="butt"/>
<line x1="196.5" y1="497.93" x2="194.5" y2="499.07" stroke="#333333" stroke-width="0.75" stroke-linecap="butt"/>
<rect x="164.9" y="517.9" width="8.9" height="80" fill="#c8102e"/>
<line x1="169.35" y1="508.6" x2="169.35" y2="517.9" stroke="#4a4a4a" stroke-width="1.25" stroke-linecap="butt"/>
<line x1="166.85" y1="508.6" x2="171.85" y2="508.6" stroke="#4a4a4a" stroke-width="1.25" stroke-linecap="butt"/>
<rect x="177" y="510.1" width="9" height="87.8" fill="#0d4f8b"/>
<line x1="181.5" y1="505.2" x2="181.5" y2="510.1" stroke="#4a4a4a" stroke-width="1.25" stroke-linecap="butt"/>
<line x1="179" y1="505.2" x2="184" y2="505.2" stroke="#4a4a4a" stroke-width="1.25" stroke-linecap="butt"/>
<rect x="189.2" y="563.4" width="8.9" height="34.5" fill="#3bb54a"/>
<line x1="193.65" y1="560.4" x2="193.65" y2="563.4" stroke="#4a4a4a" stroke-width="1.25" stroke-linecap="butt"/>
<line x1="191.15" y1="560.4" x2="196.15" y2="560.4" stroke="#4a4a4a" stroke-width="1.25" stroke-linecap="butt"/>
<rect x="201.5" y="575.7" width="8.9" height="22.2" fill="#5b2a6e"/>
<line x1="205.95" y1="571.4" x2="205.95" y2="575.7" stroke="#4a4a4a" stroke-width="1.25" stroke-linecap="butt"/>
<line x1="203.45" y1="571.4" x2="208.45" y2="571.4" stroke="#4a4a4a" stroke-width="1.25" stroke-linecap="butt"/>
<rect x="213.6" y="589.4" width="8.8" height="8.5" fill="#ff8c00"/>
<line x1="218" y1="587.3" x2="218" y2="589.4" stroke="#4a4a4a" stroke-width="1.25" stroke-linecap="butt"/>
<line x1="215.5" y1="587.3" x2="220.5" y2="587.3" stroke="#4a4a4a" stroke-width="1.25" stroke-linecap="butt"/>
<line x1="160.6" y1="494.3" x2="160.6" y2="598.5" stroke="#231f20" stroke-width="1.3" stroke-linecap="butt"/>
<line x1="158.5" y1="597.9" x2="226.4" y2="597.9" stroke="#231f20" stroke-width="1.3" stroke-linecap="butt"/>
<line x1="157.4" y1="498" x2="160.6" y2="498" stroke="#231f20" stroke-width="1.1" stroke-linecap="butt"/>
<text x="142.42" y="500.85" font-size="8" fill="#231f20" stroke="#231f20" stroke-width="0.18" textLength="12.28" lengthAdjust="spacingAndGlyphs">100</text>
<line x1="157.4" y1="518" x2="160.6" y2="518" stroke="#231f20" stroke-width="1.1" stroke-linecap="butt"/>
<text x="146.52" y="520.85" font-size="8" fill="#231f20" stroke="#231f20" stroke-width="0.18" textLength="8.18" lengthAdjust="spacingAndGlyphs">80</text>
<line x1="157.4" y1="538" x2="160.6" y2="538" stroke="#231f20" stroke-width="1.1" stroke-linecap="butt"/>
<text x="146.52" y="540.85" font-size="8" fill="#231f20" stroke="#231f20" stroke-width="0.18" textLength="8.18" lengthAdjust="spacingAndGlyphs">60</text>
<line x1="157.4" y1="558" x2="160.6" y2="558" stroke="#231f20" stroke-width="1.1" stroke-linecap="butt"/>
<text x="146.52" y="560.85" font-size="8" fill="#231f20" stroke="#231f20" stroke-width="0.18" textLength="8.18" lengthAdjust="spacingAndGlyphs">40</text>
<line x1="157.4" y1="578" x2="160.6" y2="578" stroke="#231f20" stroke-width="1.1" stroke-linecap="butt"/>
<text x="146.52" y="580.85" font-size="8" fill="#231f20" stroke="#231f20" stroke-width="0.18" textLength="8.18" lengthAdjust="spacingAndGlyphs">20</text>
<line x1="157.4" y1="597.9" x2="160.6" y2="597.9" stroke="#231f20" stroke-width="1.1" stroke-linecap="butt"/>
<text x="150.61" y="600.75" font-size="8" fill="#231f20" stroke="#231f20" stroke-width="0.18" textLength="4.09" lengthAdjust="spacingAndGlyphs">0</text>
<line x1="169.3" y1="597.9" x2="169.3" y2="600.4" stroke="#231f20" stroke-width="1" stroke-linecap="butt"/>
<text x="169.3" y="609.6" font-size="7.6" font-weight="normal" fill="#231f20" stroke="#231f20" stroke-width="0.18" text-anchor="middle">0</text>
<line x1="181.5" y1="597.9" x2="181.5" y2="600.4" stroke="#231f20" stroke-width="1" stroke-linecap="butt"/>
<text x="181.5" y="609.6" font-size="7.6" font-weight="normal" fill="#231f20" stroke="#231f20" stroke-width="0.18" text-anchor="middle">7</text>
<line x1="193.6" y1="597.9" x2="193.6" y2="600.4" stroke="#231f20" stroke-width="1" stroke-linecap="butt"/>
<text x="193.6" y="609.6" font-size="7.6" font-weight="normal" fill="#231f20" stroke="#231f20" stroke-width="0.18" text-anchor="middle">14</text>
<line x1="206" y1="597.9" x2="206" y2="600.4" stroke="#231f20" stroke-width="1" stroke-linecap="butt"/>
<text x="206" y="609.6" font-size="7.6" font-weight="normal" fill="#231f20" stroke="#231f20" stroke-width="0.18" text-anchor="middle">21</text>
<line x1="218" y1="597.9" x2="218" y2="600.4" stroke="#231f20" stroke-width="1" stroke-linecap="butt"/>
<text x="218" y="609.6" font-size="7.6" font-weight="normal" fill="#231f20" stroke="#231f20" stroke-width="0.18" text-anchor="middle">28</text>
<text transform="translate(135.8 570.2) rotate(-90)" x="0" y="0" font-size="9" fill="#231f20" stroke="#231f20" stroke-width="0.25" textLength="48.5" lengthAdjust="spacingAndGlyphs">% Specific lysis</text>
<text x="72.6" y="622.4" font-size="8.8" font-weight="normal" fill="#231f20" stroke="#231f20" stroke-width="0.22" textLength="11.9" lengthAdjust="spacingAndGlyphs">Day</text>
<line x1="90.5" y1="620.7" x2="226.4" y2="620.7" stroke="#444" stroke-width="1.1" stroke-linecap="butt"/>
<text x="293.3" y="463" font-size="10.5" font-weight="bold" fill="#000" stroke="#000" stroke-width="0.35" textLength="6" lengthAdjust="spacingAndGlyphs">F</text>
<text x="397.5" y="463.5" font-size="9" font-weight="normal" fill="#231f20" stroke="#231f20" stroke-width="0.22" textLength="33.8" lengthAdjust="spacingAndGlyphs">OCI-Ly1</text>
<text x="330.8" y="477.5" font-size="9.3" font-weight="normal" fill="#231f20" stroke="#231f20" stroke-width="0.22" textLength="51.7" lengthAdjust="spacingAndGlyphs">Proliferation</text>
<text x="445.5" y="475" font-size="9.3" font-weight="normal" fill="#231f20" stroke="#231f20" stroke-width="0.22" textLength="50.8" lengthAdjust="spacingAndGlyphs">Cytotoxicity</text>
<line x1="356.6" y1="495.5" x2="384.3" y2="495.5" stroke="#333333" stroke-width="1.15" stroke-linecap="butt"/>
<line x1="369.85" y1="491.35" x2="369.85" y2="493.65" stroke="#333333" stroke-width="0.75" stroke-linecap="butt"/>
<line x1="368.85" y1="491.93" x2="370.85" y2="493.07" stroke="#333333" stroke-width="0.75" stroke-linecap="butt"/>
<line x1="370.85" y1="491.93" x2="368.85" y2="493.07" stroke="#333333" stroke-width="0.75" stroke-linecap="butt"/>
<line x1="373.15" y1="491.35" x2="373.15" y2="493.65" stroke="#333333" stroke-width="0.75" stroke-linecap="butt"/>
<line x1="372.15" y1="491.93" x2="374.15" y2="493.07" stroke="#333333" stroke-width="0.75" stroke-linecap="butt"/>
<line x1="374.15" y1="491.93" x2="372.15" y2="493.07" stroke="#333333" stroke-width="0.75" stroke-linecap="butt"/>
<rect x="328.2" y="558.3" width="8.9" height="39.6" fill="#c8102e"/>
<line x1="332.65" y1="554.5" x2="332.65" y2="558.3" stroke="#4a4a4a" stroke-width="1.25" stroke-linecap="butt"/>
<line x1="330.15" y1="554.5" x2="335.15" y2="554.5" stroke="#4a4a4a" stroke-width="1.25" stroke-linecap="butt"/>
<rect x="340.3" y="527.7" width="8.9" height="70.2" fill="#0d4f8b"/>
<rect x="352.6" y="512.2" width="8.8" height="85.7" fill="#3bb54a"/>
<line x1="357" y1="505.9" x2="357" y2="512.2" stroke="#4a4a4a" stroke-width="1.25" stroke-linecap="butt"/>
<line x1="354.5" y1="505.9" x2="359.5" y2="505.9" stroke="#4a4a4a" stroke-width="1.25" stroke-linecap="butt"/>
<rect x="364.6" y="567.9" width="8.9" height="30" fill="#5b2a6e"/>
<line x1="369.05" y1="561.9" x2="369.05" y2="567.9" stroke="#4a4a4a" stroke-width="1.25" stroke-linecap="butt"/>
<line x1="366.55" y1="561.9" x2="371.55" y2="561.9" stroke="#4a4a4a" stroke-width="1.25" stroke-linecap="butt"/>
<rect x="376.9" y="581.4" width="8.9" height="16.5" fill="#ff8c00"/>
<line x1="381.35" y1="578.4" x2="381.35" y2="581.4" stroke="#4a4a4a" stroke-width="1.25" stroke-linecap="butt"/>
<line x1="378.85" y1="578.4" x2="383.85" y2="578.4" stroke="#4a4a4a" stroke-width="1.25" stroke-linecap="butt"/>
<line x1="323.8" y1="494.3" x2="323.8" y2="598.5" stroke="#231f20" stroke-width="1.3" stroke-linecap="butt"/>
<line x1="320.5" y1="597.9" x2="389.5" y2="597.9" stroke="#231f20" stroke-width="1.3" stroke-linecap="butt"/>
<line x1="320.6" y1="498" x2="323.8" y2="498" stroke="#231f20" stroke-width="1.1" stroke-linecap="butt"/>
<text x="313.81" y="500.85" font-size="8" fill="#231f20" stroke="#231f20" stroke-width="0.18" textLength="4.09" lengthAdjust="spacingAndGlyphs">5</text>
<line x1="320.6" y1="518" x2="323.8" y2="518" stroke="#231f20" stroke-width="1.1" stroke-linecap="butt"/>
<text x="313.81" y="520.85" font-size="8" fill="#231f20" stroke="#231f20" stroke-width="0.18" textLength="4.09" lengthAdjust="spacingAndGlyphs">4</text>
<line x1="320.6" y1="538" x2="323.8" y2="538" stroke="#231f20" stroke-width="1.1" stroke-linecap="butt"/>
<text x="313.81" y="540.85" font-size="8" fill="#231f20" stroke="#231f20" stroke-width="0.18" textLength="4.09" lengthAdjust="spacingAndGlyphs">3</text>
<line x1="320.6" y1="558" x2="323.8" y2="558" stroke="#231f20" stroke-width="1.1" stroke-linecap="butt"/>
<text x="313.81" y="560.85" font-size="8" fill="#231f20" stroke="#231f20" stroke-width="0.18" textLength="4.09" lengthAdjust="spacingAndGlyphs">2</text>
<line x1="320.6" y1="578" x2="323.8" y2="578" stroke="#231f20" stroke-width="1.1" stroke-linecap="butt"/>
<text x="313.81" y="580.85" font-size="8" fill="#231f20" stroke="#231f20" stroke-width="0.18" textLength="4.09" lengthAdjust="spacingAndGlyphs">1</text>
<line x1="320.6" y1="597.9" x2="323.8" y2="597.9" stroke="#231f20" stroke-width="1.1" stroke-linecap="butt"/>
<text x="313.81" y="600.75" font-size="8" fill="#231f20" stroke="#231f20" stroke-width="0.18" textLength="4.09" lengthAdjust="spacingAndGlyphs">0</text>
<line x1="332.6" y1="597.9" x2="332.6" y2="600.4" stroke="#231f20" stroke-width="1" stroke-linecap="butt"/>
<text x="332.6" y="609.6" font-size="7.6" font-weight="normal" fill="#231f20" stroke="#231f20" stroke-width="0.18" text-anchor="middle">0</text>
<line x1="344.7" y1="597.9" x2="344.7" y2="600.4" stroke="#231f20" stroke-width="1" stroke-linecap="butt"/>
<text x="344.7" y="609.6" font-size="7.6" font-weight="normal" fill="#231f20" stroke="#231f20" stroke-width="0.18" text-anchor="middle">7</text>
<line x1="357" y1="597.9" x2="357" y2="600.4" stroke="#231f20" stroke-width="1" stroke-linecap="butt"/>
<text x="357" y="609.6" font-size="7.6" font-weight="normal" fill="#231f20" stroke="#231f20" stroke-width="0.18" text-anchor="middle">14</text>
<line x1="369" y1="597.9" x2="369" y2="600.4" stroke="#231f20" stroke-width="1" stroke-linecap="butt"/>
<text x="369" y="609.6" font-size="7.6" font-weight="normal" fill="#231f20" stroke="#231f20" stroke-width="0.18" text-anchor="middle">21</text>
<line x1="381.3" y1="597.9" x2="381.3" y2="600.4" stroke="#231f20" stroke-width="1" stroke-linecap="butt"/>
<text x="381.3" y="609.6" font-size="7.6" font-weight="normal" fill="#231f20" stroke="#231f20" stroke-width="0.18" text-anchor="middle">28</text>
<line x1="322.1" y1="578" x2="389.8" y2="578" stroke="#1a1a1a" stroke-width="1.25" stroke-linecap="butt" stroke-dasharray="1.6,1.55"/>
<text transform="translate(307.5 575.5) rotate(-90)" x="0" y="0" font-size="9" fill="#231f20" stroke="#231f20" stroke-width="0.25" textLength="13.1" lengthAdjust="spacingAndGlyphs">CD2</text>
<text transform="translate(304.5 561.24) rotate(-90)" x="0" y="0" font-size="7" fill="#231f20" stroke="#231f20" stroke-width="0.2" textLength="3.68" lengthAdjust="spacingAndGlyphs">+</text>
<text transform="translate(307.5 555.8) rotate(-90)" x="0" y="0" font-size="9" fill="#231f20" stroke="#231f20" stroke-width="0.25" textLength="38.1" lengthAdjust="spacingAndGlyphs">fold change</text>
<line x1="445.5" y1="495.5" x2="498.4" y2="495.5" stroke="#333333" stroke-width="1.15" stroke-linecap="butt"/>
<line x1="472" y1="491.35" x2="472" y2="493.65" stroke="#333333" stroke-width="0.75" stroke-linecap="butt"/>
<line x1="471" y1="491.93" x2="473" y2="493.07" stroke="#333333" stroke-width="0.75" stroke-linecap="butt"/>
<line x1="473" y1="491.93" x2="471" y2="493.07" stroke="#333333" stroke-width="0.75" stroke-linecap="butt"/>
<rect x="442.3" y="505.2" width="8.9" height="92.7" fill="#c8102e"/>
<line x1="446.75" y1="499.5" x2="446.75" y2="505.2" stroke="#4a4a4a" stroke-width="1.25" stroke-linecap="butt"/>
<line x1="444.25" y1="499.5" x2="449.25" y2="499.5" stroke="#4a4a4a" stroke-width="1.25" stroke-linecap="butt"/>
<rect x="454.6" y="504.8" width="8.9" height="93.1" fill="#0d4f8b"/>
<line x1="459.05" y1="503.8" x2="459.05" y2="504.8" stroke="#4a4a4a" stroke-width="1.25" stroke-linecap="butt"/>
<line x1="456.55" y1="503.8" x2="461.55" y2="503.8" stroke="#4a4a4a" stroke-width="1.25" stroke-linecap="butt"/>
<rect x="466.6" y="536.1" width="8.9" height="61.8" fill="#3bb54a"/>
<line x1="471.05" y1="530.8" x2="471.05" y2="536.1" stroke="#4a4a4a" stroke-width="1.25" stroke-linecap="butt"/>
<line x1="468.55" y1="530.8" x2="473.55" y2="530.8" stroke="#4a4a4a" stroke-width="1.25" stroke-linecap="butt"/>
<rect x="478.7" y="540.1" width="8.9" height="57.8" fill="#5b2a6e"/>
<line x1="483.15" y1="534.4" x2="483.15" y2="540.1" stroke="#4a4a4a" stroke-width="1.25" stroke-linecap="butt"/>
<line x1="480.65" y1="534.4" x2="485.65" y2="534.4" stroke="#4a4a4a" stroke-width="1.25" stroke-linecap="butt"/>
<rect x="491" y="570.8" width="8.9" height="27.1" fill="#ff8c00"/>
<line x1="495.45" y1="563.6" x2="495.45" y2="570.8" stroke="#4a4a4a" stroke-width="1.25" stroke-linecap="butt"/>
<line x1="492.95" y1="563.6" x2="497.95" y2="563.6" stroke="#4a4a4a" stroke-width="1.25" stroke-linecap="butt"/>
<line x1="438.1" y1="493.8" x2="438.1" y2="598.5" stroke="#231f20" stroke-width="1.3" stroke-linecap="butt"/>
<line x1="435.3" y1="597.9" x2="503.4" y2="597.9" stroke="#231f20" stroke-width="1.3" stroke-linecap="butt"/>
<line x1="434.9" y1="498" x2="438.1" y2="498" stroke="#231f20" stroke-width="1.1" stroke-linecap="butt"/>
<text x="419.92" y="500.85" font-size="8" fill="#231f20" stroke="#231f20" stroke-width="0.18" textLength="12.28" lengthAdjust="spacingAndGlyphs">100</text>
<line x1="434.9" y1="518" x2="438.1" y2="518" stroke="#231f20" stroke-width="1.1" stroke-linecap="butt"/>
<text x="424.02" y="520.85" font-size="8" fill="#231f20" stroke="#231f20" stroke-width="0.18" textLength="8.18" lengthAdjust="spacingAndGlyphs">80</text>
<line x1="434.9" y1="538" x2="438.1" y2="538" stroke="#231f20" stroke-width="1.1" stroke-linecap="butt"/>
<text x="424.02" y="540.85" font-size="8" fill="#231f20" stroke="#231f20" stroke-width="0.18" textLength="8.18" lengthAdjust="spacingAndGlyphs">60</text>
<line x1="434.9" y1="558" x2="438.1" y2="558" stroke="#231f20" stroke-width="1.1" stroke-linecap="butt"/>
<text x="424.02" y="560.85" font-size="8" fill="#231f20" stroke="#231f20" stroke-width="0.18" textLength="8.18" lengthAdjust="spacingAndGlyphs">40</text>
<line x1="434.9" y1="578" x2="438.1" y2="578" stroke="#231f20" stroke-width="1.1" stroke-linecap="butt"/>
<text x="424.02" y="580.85" font-size="8" fill="#231f20" stroke="#231f20" stroke-width="0.18" textLength="8.18" lengthAdjust="spacingAndGlyphs">20</text>
<line x1="434.9" y1="597.9" x2="438.1" y2="597.9" stroke="#231f20" stroke-width="1.1" stroke-linecap="butt"/>
<text x="428.11" y="600.75" font-size="8" fill="#231f20" stroke="#231f20" stroke-width="0.18" textLength="4.09" lengthAdjust="spacingAndGlyphs">0</text>
<line x1="446.8" y1="597.9" x2="446.8" y2="600.4" stroke="#231f20" stroke-width="1" stroke-linecap="butt"/>
<text x="446.8" y="609.6" font-size="7.6" font-weight="normal" fill="#231f20" stroke="#231f20" stroke-width="0.18" text-anchor="middle">0</text>
<line x1="459" y1="597.9" x2="459" y2="600.4" stroke="#231f20" stroke-width="1" stroke-linecap="butt"/>
<text x="459" y="609.6" font-size="7.6" font-weight="normal" fill="#231f20" stroke="#231f20" stroke-width="0.18" text-anchor="middle">7</text>
<line x1="471" y1="597.9" x2="471" y2="600.4" stroke="#231f20" stroke-width="1" stroke-linecap="butt"/>
<text x="471" y="609.6" font-size="7.6" font-weight="normal" fill="#231f20" stroke="#231f20" stroke-width="0.18" text-anchor="middle">14</text>
<line x1="483.1" y1="597.9" x2="483.1" y2="600.4" stroke="#231f20" stroke-width="1" stroke-linecap="butt"/>
<text x="483.1" y="609.6" font-size="7.6" font-weight="normal" fill="#231f20" stroke="#231f20" stroke-width="0.18" text-anchor="middle">21</text>
<line x1="495.4" y1="597.9" x2="495.4" y2="600.4" stroke="#231f20" stroke-width="1" stroke-linecap="butt"/>
<text x="495.4" y="609.6" font-size="7.6" font-weight="normal" fill="#231f20" stroke="#231f20" stroke-width="0.18" text-anchor="middle">28</text>
<text transform="translate(413.1 570.7) rotate(-90)" x="0" y="0" font-size="9" fill="#231f20" stroke="#231f20" stroke-width="0.25" textLength="49.5" lengthAdjust="spacingAndGlyphs">% Specific lysis</text>
<text x="349.6" y="622.4" font-size="8.8" font-weight="normal" fill="#231f20" stroke="#231f20" stroke-width="0.22" textLength="12.2" lengthAdjust="spacingAndGlyphs">Day</text>
<line x1="368" y1="620.7" x2="503.4" y2="620.7" stroke="#444" stroke-width="1.1" stroke-linecap="butt"/>
<rect x="0.5" y="0.5" width="519" height="629" fill="none" stroke="#000" stroke-width="1"/>
</svg>
</body></html>
